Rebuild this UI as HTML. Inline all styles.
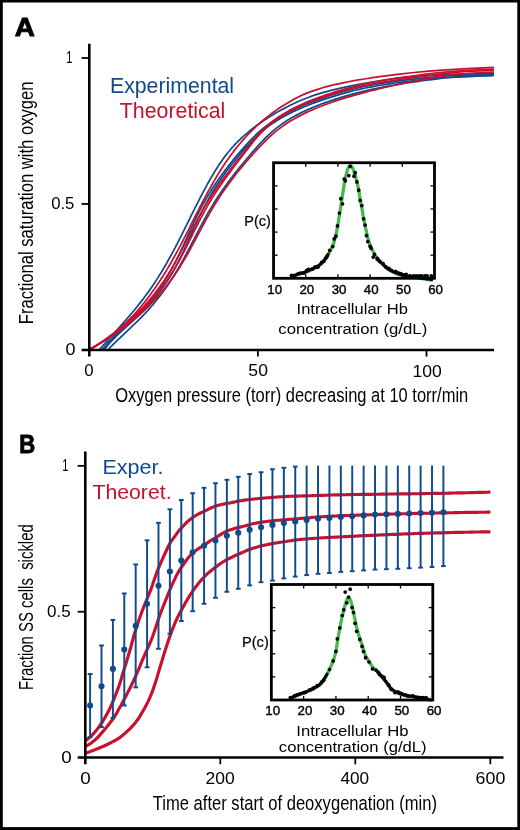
<!DOCTYPE html>
<html><head><meta charset="utf-8"><style>
html,body{margin:0;padding:0;background:#fff;}
svg{display:block;will-change:transform;}
text{font-family:"Liberation Sans", sans-serif;}
</style></head><body>
<svg width="520" height="830" viewBox="0 0 520 830">
<rect x="0" y="0" width="520" height="830" fill="#fff"/>
<path d="M99.4 349.9 L100.3 348.6 L101.4 347.4 L102.5 346.1 L103.6 344.8 L104.8 343.6 L105.9 342.3 L107.1 341.1 L108.2 339.8 L109.3 338.5 L110.5 337.3 L111.6 336.0 L112.8 334.7 L113.9 333.5 L115.0 332.2 L116.2 330.9 L117.3 329.7 L118.4 328.4 L119.6 327.2 L120.7 325.9 L121.8 324.6 L122.9 323.4 L124.0 322.1 L125.1 320.8 L126.2 319.6 L127.3 318.3 L128.4 317.0 L129.5 315.8 L130.6 314.5 L131.6 313.3 L132.7 312.0 L133.8 310.7 L134.8 309.5 L135.8 308.2 L136.9 306.9 L137.9 305.7 L138.9 304.4 L139.9 303.1 L140.9 301.9 L141.9 300.6 L142.9 299.4 L143.8 298.1 L144.8 296.8 L145.7 295.6 L146.6 294.3 L147.5 293.0 L148.5 291.8 L149.3 290.5 L150.2 289.2 L151.1 288.0 L152.0 286.7 L152.8 285.5 L153.7 284.2 L154.5 282.9 L155.4 281.7 L156.2 280.4 L157.0 279.1 L157.8 277.9 L158.6 276.6 L159.4 275.3 L160.2 274.1 L161.0 272.8 L161.7 271.6 L162.5 270.3 L163.2 269.0 L164.0 267.8 L164.7 266.5 L165.5 265.2 L166.2 264.0 L166.9 262.7 L167.6 261.5 L168.3 260.2 L169.0 258.9 L169.7 257.7 L170.4 256.4 L171.1 255.1 L171.8 253.9 L172.5 252.6 L173.2 251.3 L173.8 250.1 L174.5 248.8 L175.2 247.6 L175.8 246.3 L176.5 245.0 L177.2 243.8 L177.8 242.5 L178.4 241.2 L179.1 240.0 L179.7 238.7 L180.4 237.4 L181.0 236.2 L181.6 234.9 L182.3 233.7 L182.9 232.4 L183.5 231.1 L184.2 229.9 L184.8 228.6 L185.4 227.3 L186.0 226.1 L186.7 224.8 L187.3 223.5 L187.9 222.3 L188.5 221.0 L189.2 219.8 L189.8 218.5 L190.4 217.2 L191.0 216.0 L191.7 214.7 L192.3 213.4 L192.9 212.2 L193.5 210.9 L194.2 209.6 L194.8 208.4 L195.4 207.1 L196.1 205.9 L196.7 204.6 L197.3 203.3 L198.0 202.1 L198.6 200.8 L199.3 199.5 L199.9 198.3 L200.6 197.0 L201.2 195.7 L201.9 194.5 L202.6 193.2 L203.2 192.0 L203.9 190.7 L204.6 189.4 L205.3 188.2 L206.0 186.9 L206.6 185.6 L207.3 184.4 L208.0 183.1 L208.7 181.8 L209.5 180.6 L210.2 179.3 L210.9 178.1 L211.6 176.8 L212.4 175.5 L213.1 174.3 L213.9 173.0 L214.6 171.7 L215.4 170.5 L216.2 169.2 L217.0 167.9 L217.8 166.7 L218.6 165.4 L219.4 164.2 L220.3 162.9 L221.2 161.6 L222.1 160.4 L223.0 159.1 L223.9 157.8 L224.8 156.6 L225.8 155.3 L226.8 154.0 L227.8 152.8 L228.8 151.5 L229.9 150.3 L230.9 149.0 L232.1 147.7 L233.2 146.5 L234.3 145.2 L235.5 143.9 L236.8 142.7 L238.0 141.4 L239.3 140.1 L240.6 138.9 L241.9 137.6 L243.3 136.4 L244.7 135.1 L246.2 133.8 L247.7 132.6 L249.2 131.3 L250.8 130.0 L252.4 128.8 L254.0 127.5 L255.7 126.2 L257.4 125.0 L259.2 123.7 L261.0 122.5 L262.8 121.2 L264.7 119.9 L266.7 118.7 L268.6 117.4 L270.7 116.1 L272.8 114.9 L274.9 113.6 L277.1 112.3 L279.3 111.1 L281.6 109.8 L283.9 108.6 L286.3 107.3 L288.8 106.0 L291.3 104.8 L293.9 103.5 L296.6 102.2 L299.4 101.0 L302.4 99.7 L305.5 98.5 L308.9 97.2 L312.4 95.9 L316.2 94.7 L320.3 93.4 L324.6 92.1 L329.3 90.9 L334.2 89.6 L339.5 88.3 L345.2 87.1 L351.2 85.8 L357.7 84.6 L364.6 83.3 L371.9 82.0 L379.8 80.8 L388.1 79.5 L397.2 78.2 L409.0 77.0 L426.2 75.7 L451.4 74.4 L493.9 73.2" fill="none" stroke="#0f4b8b" stroke-width="1.75"/>
<path d="M102.1 349.9 L103.1 348.6 L104.0 347.4 L105.0 346.1 L106.1 344.9 L107.2 343.6 L108.3 342.4 L109.5 341.1 L110.7 339.8 L111.9 338.6 L113.1 337.3 L114.4 336.1 L115.7 334.8 L117.0 333.5 L118.3 332.3 L119.7 331.0 L121.0 329.8 L122.4 328.5 L123.8 327.3 L125.1 326.0 L126.5 324.7 L127.9 323.5 L129.3 322.2 L130.6 321.0 L132.0 319.7 L133.3 318.4 L134.6 317.2 L136.0 315.9 L137.3 314.7 L138.5 313.4 L139.8 312.2 L141.0 310.9 L142.2 309.6 L143.4 308.4 L144.6 307.1 L145.7 305.9 L146.9 304.6 L148.0 303.3 L149.0 302.1 L150.1 300.8 L151.2 299.6 L152.2 298.3 L153.2 297.1 L154.2 295.8 L155.2 294.5 L156.1 293.3 L157.1 292.0 L158.0 290.8 L158.9 289.5 L159.8 288.2 L160.6 287.0 L161.5 285.7 L162.4 284.5 L163.2 283.2 L164.0 282.0 L164.8 280.7 L165.6 279.4 L166.4 278.2 L167.1 276.9 L167.9 275.7 L168.6 274.4 L169.4 273.1 L170.1 271.9 L170.8 270.6 L171.5 269.4 L172.2 268.1 L172.9 266.9 L173.5 265.6 L174.2 264.3 L174.9 263.1 L175.5 261.8 L176.1 260.6 L176.8 259.3 L177.4 258.0 L178.0 256.8 L178.6 255.5 L179.2 254.3 L179.8 253.0 L180.4 251.8 L181.0 250.5 L181.6 249.2 L182.2 248.0 L182.8 246.7 L183.3 245.5 L183.9 244.2 L184.5 242.9 L185.1 241.7 L185.6 240.4 L186.2 239.2 L186.8 237.9 L187.3 236.7 L187.9 235.4 L188.5 234.1 L189.0 232.9 L189.6 231.6 L190.2 230.4 L190.7 229.1 L191.3 227.9 L191.9 226.6 L192.5 225.3 L193.1 224.1 L193.6 222.8 L194.2 221.6 L194.8 220.3 L195.4 219.0 L196.0 217.8 L196.7 216.5 L197.3 215.3 L197.9 214.0 L198.5 212.8 L199.2 211.5 L199.8 210.2 L200.5 209.0 L201.1 207.7 L201.8 206.5 L202.5 205.2 L203.1 203.9 L203.8 202.7 L204.6 201.4 L205.3 200.2 L206.0 198.9 L206.7 197.7 L207.5 196.4 L208.2 195.1 L209.0 193.9 L209.8 192.6 L210.6 191.4 L211.3 190.1 L212.1 188.8 L213.0 187.6 L213.8 186.3 L214.6 185.1 L215.5 183.8 L216.3 182.6 L217.2 181.3 L218.0 180.0 L218.9 178.8 L219.8 177.5 L220.7 176.3 L221.6 175.0 L222.5 173.7 L223.5 172.5 L224.4 171.2 L225.3 170.0 L226.3 168.7 L227.3 167.5 L228.2 166.2 L229.2 164.9 L230.2 163.7 L231.2 162.4 L232.2 161.2 L233.2 159.9 L234.3 158.6 L235.3 157.4 L236.4 156.1 L237.4 154.9 L238.5 153.6 L239.6 152.4 L240.7 151.1 L241.8 149.8 L242.9 148.6 L244.0 147.3 L245.1 146.1 L246.2 144.8 L247.4 143.5 L248.5 142.3 L249.7 141.0 L250.9 139.8 L252.1 138.5 L253.4 137.3 L254.7 136.0 L256.0 134.7 L257.3 133.5 L258.7 132.2 L260.1 131.0 L261.6 129.7 L263.1 128.5 L264.7 127.2 L266.3 125.9 L268.0 124.7 L269.8 123.4 L271.6 122.2 L273.4 120.9 L275.4 119.6 L277.4 118.4 L279.5 117.1 L281.7 115.9 L283.9 114.6 L286.2 113.4 L288.7 112.1 L291.2 110.8 L293.8 109.6 L296.5 108.3 L299.3 107.1 L302.2 105.8 L305.3 104.5 L308.4 103.3 L311.6 102.0 L315.0 100.8 L318.5 99.5 L322.1 98.3 L325.8 97.0 L329.6 95.7 L333.6 94.5 L337.7 93.2 L342.0 92.0 L346.5 90.7 L351.3 89.4 L356.4 88.2 L362.1 86.9 L368.3 85.7 L375.2 84.4 L382.8 83.2 L391.3 81.9 L400.6 80.6 L411.0 79.4 L422.5 78.1 L435.2 76.9 L450.8 75.6 L493.9 74.3" fill="none" stroke="#0f4b8b" stroke-width="1.75"/>
<path d="M104.1 349.9 L105.0 348.6 L106.0 347.4 L107.0 346.1 L108.0 344.9 L109.1 343.6 L110.2 342.4 L111.4 341.1 L112.6 339.9 L113.8 338.6 L115.1 337.4 L116.3 336.1 L117.6 334.9 L118.9 333.6 L120.3 332.4 L121.6 331.1 L123.0 329.9 L124.4 328.6 L125.7 327.3 L127.1 326.1 L128.5 324.8 L129.9 323.6 L131.3 322.3 L132.6 321.1 L134.0 319.8 L135.4 318.6 L136.7 317.3 L138.1 316.1 L139.4 314.8 L140.7 313.6 L141.9 312.3 L143.2 311.1 L144.4 309.8 L145.6 308.6 L146.8 307.3 L148.0 306.0 L149.1 304.8 L150.2 303.5 L151.3 302.3 L152.4 301.0 L153.5 299.8 L154.5 298.5 L155.5 297.3 L156.5 296.0 L157.5 294.8 L158.5 293.5 L159.4 292.3 L160.4 291.0 L161.3 289.8 L162.2 288.5 L163.1 287.3 L164.0 286.0 L164.8 284.7 L165.7 283.5 L166.5 282.2 L167.3 281.0 L168.1 279.7 L168.9 278.5 L169.7 277.2 L170.4 276.0 L171.2 274.7 L171.9 273.5 L172.7 272.2 L173.4 271.0 L174.1 269.7 L174.8 268.5 L175.5 267.2 L176.1 266.0 L176.8 264.7 L177.5 263.4 L178.1 262.2 L178.8 260.9 L179.4 259.7 L180.0 258.4 L180.7 257.2 L181.3 255.9 L181.9 254.7 L182.5 253.4 L183.1 252.2 L183.7 250.9 L184.3 249.7 L184.8 248.4 L185.4 247.2 L186.0 245.9 L186.6 244.7 L187.1 243.4 L187.7 242.2 L188.3 240.9 L188.8 239.6 L189.4 238.4 L190.0 237.1 L190.5 235.9 L191.1 234.6 L191.7 233.4 L192.2 232.1 L192.8 230.9 L193.3 229.6 L193.9 228.4 L194.5 227.1 L195.0 225.9 L195.6 224.6 L196.2 223.4 L196.8 222.1 L197.3 220.9 L197.9 219.6 L198.5 218.3 L199.1 217.1 L199.7 215.8 L200.3 214.6 L200.9 213.3 L201.6 212.1 L202.2 210.8 L202.8 209.6 L203.5 208.3 L204.1 207.1 L204.8 205.8 L205.4 204.6 L206.1 203.3 L206.8 202.1 L207.5 200.8 L208.2 199.6 L208.9 198.3 L209.6 197.0 L210.3 195.8 L211.1 194.5 L211.8 193.3 L212.6 192.0 L213.3 190.8 L214.1 189.5 L214.9 188.3 L215.7 187.0 L216.5 185.8 L217.3 184.5 L218.1 183.3 L219.0 182.0 L219.8 180.8 L220.7 179.5 L221.5 178.3 L222.4 177.0 L223.3 175.7 L224.2 174.5 L225.1 173.2 L226.0 172.0 L226.9 170.7 L227.8 169.5 L228.8 168.2 L229.7 167.0 L230.7 165.7 L231.7 164.5 L232.7 163.2 L233.7 162.0 L234.7 160.7 L235.7 159.5 L236.7 158.2 L237.8 157.0 L238.8 155.7 L239.9 154.4 L240.9 153.2 L242.0 151.9 L243.1 150.7 L244.2 149.4 L245.3 148.2 L246.5 146.9 L247.6 145.7 L248.8 144.4 L249.9 143.2 L251.1 141.9 L252.3 140.7 L253.5 139.4 L254.8 138.2 L256.1 136.9 L257.4 135.7 L258.7 134.4 L260.1 133.1 L261.5 131.9 L263.0 130.6 L264.6 129.4 L266.1 128.1 L267.8 126.9 L269.5 125.6 L271.2 124.4 L273.0 123.1 L274.9 121.9 L276.9 120.6 L278.9 119.4 L281.0 118.1 L283.2 116.9 L285.5 115.6 L287.9 114.4 L290.3 113.1 L292.9 111.8 L295.5 110.6 L298.3 109.3 L301.1 108.1 L304.1 106.8 L307.1 105.6 L310.3 104.3 L313.6 103.1 L317.0 101.8 L320.5 100.6 L324.2 99.3 L328.0 98.1 L331.9 96.8 L335.9 95.6 L340.1 94.3 L344.5 93.1 L349.1 91.8 L354.0 90.5 L359.4 89.3 L365.2 88.0 L371.6 86.8 L378.7 85.5 L386.5 84.3 L395.1 83.0 L404.6 81.8 L415.1 80.5 L426.6 79.3 L439.2 78.0 L455.6 76.8 L493.9 75.5" fill="none" stroke="#0f4b8b" stroke-width="1.75"/>
<path d="M108.2 349.9 L109.0 348.6 L110.2 347.4 L111.5 346.1 L112.7 344.9 L114.0 343.6 L115.3 342.4 L116.6 341.1 L117.8 339.9 L119.2 338.6 L120.5 337.4 L121.8 336.1 L123.1 334.9 L124.4 333.6 L125.7 332.4 L127.1 331.1 L128.4 329.9 L129.7 328.6 L131.0 327.3 L132.3 326.1 L133.6 324.8 L134.9 323.6 L136.2 322.3 L137.5 321.1 L138.8 319.8 L140.0 318.6 L141.3 317.3 L142.5 316.1 L143.7 314.8 L144.9 313.6 L146.1 312.3 L147.3 311.1 L148.4 309.8 L149.5 308.6 L150.6 307.3 L151.7 306.0 L152.8 304.8 L153.9 303.5 L154.9 302.3 L155.9 301.0 L156.9 299.8 L157.9 298.5 L158.9 297.3 L159.9 296.0 L160.9 294.8 L161.8 293.5 L162.7 292.3 L163.6 291.0 L164.5 289.8 L165.4 288.5 L166.3 287.3 L167.2 286.0 L168.0 284.7 L168.9 283.5 L169.7 282.2 L170.5 281.0 L171.3 279.7 L172.1 278.5 L172.9 277.2 L173.7 276.0 L174.5 274.7 L175.3 273.5 L176.0 272.2 L176.8 271.0 L177.5 269.7 L178.2 268.5 L179.0 267.2 L179.7 266.0 L180.4 264.7 L181.1 263.4 L181.8 262.2 L182.5 260.9 L183.2 259.7 L183.9 258.4 L184.6 257.2 L185.2 255.9 L185.9 254.7 L186.6 253.4 L187.2 252.2 L187.9 250.9 L188.6 249.7 L189.2 248.4 L189.9 247.2 L190.5 245.9 L191.2 244.7 L191.8 243.4 L192.5 242.2 L193.1 240.9 L193.8 239.6 L194.4 238.4 L195.1 237.1 L195.7 235.9 L196.4 234.6 L197.0 233.4 L197.7 232.1 L198.3 230.9 L199.0 229.6 L199.6 228.4 L200.3 227.1 L201.0 225.9 L201.6 224.6 L202.3 223.4 L203.0 222.1 L203.7 220.9 L204.3 219.6 L205.0 218.3 L205.7 217.1 L206.4 215.8 L207.1 214.6 L207.8 213.3 L208.6 212.1 L209.3 210.8 L210.0 209.6 L210.8 208.3 L211.5 207.1 L212.3 205.8 L213.0 204.6 L213.8 203.3 L214.6 202.1 L215.4 200.8 L216.2 199.6 L217.0 198.3 L217.8 197.0 L218.6 195.8 L219.5 194.5 L220.3 193.3 L221.2 192.0 L222.0 190.8 L222.9 189.5 L223.8 188.3 L224.7 187.0 L225.6 185.8 L226.5 184.5 L227.4 183.3 L228.3 182.0 L229.2 180.8 L230.2 179.5 L231.1 178.3 L232.1 177.0 L233.0 175.7 L234.0 174.5 L234.9 173.2 L235.9 172.0 L236.9 170.7 L237.9 169.5 L238.9 168.2 L239.9 167.0 L241.0 165.7 L242.0 164.5 L243.0 163.2 L244.1 162.0 L245.1 160.7 L246.2 159.5 L247.2 158.2 L248.3 157.0 L249.4 155.7 L250.5 154.4 L251.5 153.2 L252.6 151.9 L253.8 150.7 L254.9 149.4 L256.0 148.2 L257.1 146.9 L258.2 145.7 L259.4 144.4 L260.5 143.2 L261.7 141.9 L262.9 140.7 L264.1 139.4 L265.3 138.2 L266.6 136.9 L267.8 135.7 L269.2 134.4 L270.5 133.1 L271.9 131.9 L273.4 130.6 L274.9 129.4 L276.4 128.1 L278.0 126.9 L279.7 125.6 L281.4 124.4 L283.2 123.1 L285.1 121.9 L287.0 120.6 L289.0 119.4 L291.1 118.1 L293.3 116.9 L295.6 115.6 L298.0 114.4 L300.4 113.1 L303.0 111.8 L305.7 110.6 L308.4 109.3 L311.3 108.1 L314.3 106.8 L317.4 105.6 L320.7 104.3 L324.0 103.1 L327.5 101.8 L331.1 100.6 L334.9 99.3 L338.8 98.1 L342.8 96.8 L347.1 95.6 L351.5 94.3 L356.2 93.1 L361.1 91.8 L366.4 90.5 L372.0 89.3 L378.0 88.0 L384.4 86.8 L391.3 85.5 L398.7 84.3 L406.6 83.0 L415.0 81.8 L424.1 80.5 L433.8 79.3 L444.2 78.0 L460.1 76.8 L493.9 75.5" fill="none" stroke="#0f4b8b" stroke-width="1.75"/>
<path d="M89.3 349.9 L91.0 348.6 L93.2 347.3 L95.3 346.0 L97.3 344.7 L99.4 343.4 L101.3 342.2 L103.2 340.9 L105.1 339.6 L106.9 338.3 L108.7 337.0 L110.5 335.7 L112.2 334.4 L113.9 333.1 L115.5 331.8 L117.1 330.5 L118.6 329.3 L120.1 328.0 L121.6 326.7 L123.1 325.4 L124.5 324.1 L125.9 322.8 L127.2 321.5 L128.5 320.2 L129.8 318.9 L131.1 317.6 L132.3 316.4 L133.6 315.1 L134.7 313.8 L135.9 312.5 L137.1 311.2 L138.2 309.9 L139.3 308.6 L140.4 307.3 L141.5 306.0 L142.5 304.7 L143.5 303.5 L144.6 302.2 L145.6 300.9 L146.6 299.6 L147.6 298.3 L148.5 297.0 L149.5 295.7 L150.5 294.4 L151.4 293.1 L152.3 291.8 L153.3 290.5 L154.2 289.3 L155.1 288.0 L156.0 286.7 L156.8 285.4 L157.7 284.1 L158.6 282.8 L159.4 281.5 L160.3 280.2 L161.1 278.9 L161.9 277.6 L162.8 276.4 L163.6 275.1 L164.4 273.8 L165.2 272.5 L166.0 271.2 L166.7 269.9 L167.5 268.6 L168.3 267.3 L169.0 266.0 L169.8 264.7 L170.5 263.5 L171.3 262.2 L172.0 260.9 L172.7 259.6 L173.5 258.3 L174.2 257.0 L174.9 255.7 L175.6 254.4 L176.3 253.1 L177.0 251.8 L177.7 250.6 L178.4 249.3 L179.1 248.0 L179.8 246.7 L180.5 245.4 L181.1 244.1 L181.8 242.8 L182.5 241.5 L183.1 240.2 L183.8 238.9 L184.5 237.7 L185.1 236.4 L185.8 235.1 L186.4 233.8 L187.1 232.5 L187.8 231.2 L188.4 229.9 L189.1 228.6 L189.7 227.3 L190.4 226.0 L191.0 224.7 L191.6 223.5 L192.3 222.2 L192.9 220.9 L193.6 219.6 L194.2 218.3 L194.9 217.0 L195.5 215.7 L196.2 214.4 L196.8 213.1 L197.5 211.8 L198.2 210.6 L198.8 209.3 L199.5 208.0 L200.1 206.7 L200.8 205.4 L201.5 204.1 L202.1 202.8 L202.8 201.5 L203.5 200.2 L204.2 198.9 L204.9 197.7 L205.5 196.4 L206.2 195.1 L206.9 193.8 L207.6 192.5 L208.3 191.2 L209.0 189.9 L209.8 188.6 L210.5 187.3 L211.2 186.0 L211.9 184.8 L212.7 183.5 L213.4 182.2 L214.1 180.9 L214.9 179.6 L215.7 178.3 L216.4 177.0 L217.2 175.7 L218.0 174.4 L218.8 173.1 L219.6 171.8 L220.4 170.6 L221.2 169.3 L222.0 168.0 L222.8 166.7 L223.7 165.4 L224.5 164.1 L225.4 162.8 L226.3 161.5 L227.2 160.2 L228.1 158.9 L229.0 157.7 L229.9 156.4 L230.8 155.1 L231.8 153.8 L232.8 152.5 L233.7 151.2 L234.7 149.9 L235.7 148.6 L236.8 147.3 L237.8 146.0 L238.9 144.8 L240.0 143.5 L241.1 142.2 L242.2 140.9 L243.3 139.6 L244.5 138.3 L245.7 137.0 L246.9 135.7 L248.1 134.4 L249.3 133.1 L250.6 131.9 L251.9 130.6 L253.2 129.3 L254.5 128.0 L255.9 126.7 L257.3 125.4 L258.7 124.1 L260.1 122.8 L261.6 121.5 L263.1 120.2 L264.7 118.9 L266.3 117.7 L267.9 116.4 L269.6 115.1 L271.3 113.8 L273.0 112.5 L274.9 111.2 L276.7 109.9 L278.6 108.6 L280.6 107.3 L282.6 106.0 L284.6 104.8 L286.7 103.5 L288.9 102.2 L291.1 100.9 L293.4 99.6 L295.8 98.3 L298.3 97.0 L300.9 95.7 L303.8 94.4 L306.8 93.1 L310.1 91.9 L313.7 90.6 L317.6 89.3 L321.8 88.0 L326.5 86.7 L331.5 85.4 L337.1 84.1 L343.1 82.8 L349.6 81.5 L356.7 80.2 L364.4 79.0 L372.7 77.7 L381.7 76.4 L391.4 75.1 L402.0 73.8 L414.1 72.5 L428.6 71.2 L446.0 69.9 L467.3 68.6 L493.9 67.3" fill="none" stroke="#c8102e" stroke-width="1.75"/>
<path d="M89.3 349.9 L91.5 348.6 L93.6 347.3 L95.6 346.1 L97.6 344.8 L99.5 343.5 L101.4 342.2 L103.3 340.9 L105.1 339.6 L107.0 338.4 L108.8 337.1 L110.5 335.8 L112.2 334.5 L114.0 333.2 L115.6 331.9 L117.3 330.7 L118.9 329.4 L120.5 328.1 L122.1 326.8 L123.6 325.5 L125.1 324.3 L126.6 323.0 L128.1 321.7 L129.5 320.4 L130.9 319.1 L132.3 317.8 L133.7 316.6 L135.0 315.3 L136.4 314.0 L137.7 312.7 L138.9 311.4 L140.2 310.2 L141.4 308.9 L142.7 307.6 L143.9 306.3 L145.0 305.0 L146.2 303.7 L147.3 302.5 L148.4 301.2 L149.5 299.9 L150.6 298.6 L151.7 297.3 L152.7 296.0 L153.7 294.8 L154.8 293.5 L155.7 292.2 L156.7 290.9 L157.7 289.6 L158.6 288.4 L159.6 287.1 L160.5 285.8 L161.4 284.5 L162.3 283.2 L163.2 281.9 L164.0 280.7 L164.9 279.4 L165.7 278.1 L166.5 276.8 L167.3 275.5 L168.2 274.2 L168.9 273.0 L169.7 271.7 L170.5 270.4 L171.3 269.1 L172.0 267.8 L172.8 266.6 L173.5 265.3 L174.2 264.0 L175.0 262.7 L175.7 261.4 L176.4 260.1 L177.1 258.9 L177.8 257.6 L178.5 256.3 L179.2 255.0 L179.8 253.7 L180.5 252.5 L181.2 251.2 L181.8 249.9 L182.5 248.6 L183.2 247.3 L183.8 246.0 L184.5 244.8 L185.1 243.5 L185.8 242.2 L186.4 240.9 L187.1 239.6 L187.7 238.3 L188.4 237.1 L189.0 235.8 L189.7 234.5 L190.3 233.2 L191.0 231.9 L191.7 230.7 L192.3 229.4 L193.0 228.1 L193.6 226.8 L194.3 225.5 L195.0 224.2 L195.6 223.0 L196.3 221.7 L197.0 220.4 L197.7 219.1 L198.4 217.8 L199.1 216.5 L199.8 215.3 L200.5 214.0 L201.2 212.7 L202.0 211.4 L202.7 210.1 L203.4 208.9 L204.2 207.6 L205.0 206.3 L205.7 205.0 L206.5 203.7 L207.3 202.4 L208.1 201.2 L208.9 199.9 L209.7 198.6 L210.6 197.3 L211.4 196.0 L212.2 194.8 L213.1 193.5 L214.0 192.2 L214.8 190.9 L215.7 189.6 L216.6 188.3 L217.5 187.1 L218.4 185.8 L219.3 184.5 L220.2 183.2 L221.2 181.9 L222.1 180.6 L223.0 179.4 L224.0 178.1 L224.9 176.8 L225.9 175.5 L226.8 174.2 L227.8 173.0 L228.8 171.7 L229.7 170.4 L230.7 169.1 L231.7 167.8 L232.7 166.5 L233.7 165.3 L234.7 164.0 L235.7 162.7 L236.7 161.4 L237.7 160.1 L238.7 158.8 L239.7 157.6 L240.7 156.3 L241.7 155.0 L242.7 153.7 L243.7 152.4 L244.8 151.2 L245.8 149.9 L246.8 148.6 L247.8 147.3 L248.8 146.0 L249.9 144.7 L250.9 143.5 L251.9 142.2 L253.0 140.9 L254.0 139.6 L255.1 138.3 L256.2 137.1 L257.3 135.8 L258.4 134.5 L259.6 133.2 L260.8 131.9 L262.1 130.6 L263.4 129.4 L264.7 128.1 L266.1 126.8 L267.5 125.5 L269.0 124.2 L270.5 122.9 L272.1 121.7 L273.8 120.4 L275.6 119.1 L277.4 117.8 L279.3 116.5 L281.3 115.3 L283.3 114.0 L285.5 112.7 L287.7 111.4 L290.0 110.1 L292.5 108.8 L295.0 107.6 L297.6 106.3 L300.4 105.0 L303.2 103.7 L306.2 102.4 L309.3 101.1 L312.5 99.9 L315.8 98.6 L319.3 97.3 L322.9 96.0 L326.6 94.7 L330.5 93.5 L334.5 92.2 L338.7 90.9 L343.0 89.6 L347.5 88.3 L352.3 87.0 L357.4 85.8 L362.8 84.5 L368.6 83.2 L374.9 81.9 L381.8 80.6 L389.2 79.4 L397.3 78.1 L406.1 76.8 L415.7 75.5 L426.0 74.2 L437.3 72.9 L449.8 71.7 L467.0 70.4 L493.9 69.1" fill="none" stroke="#c8102e" stroke-width="1.75"/>
<path d="M89.3 349.9 L91.3 348.6 L93.5 347.3 L95.6 346.1 L97.7 344.8 L99.7 343.5 L101.7 342.2 L103.7 341.0 L105.6 339.7 L107.5 338.4 L109.4 337.1 L111.3 335.9 L113.1 334.6 L114.9 333.3 L116.6 332.0 L118.3 330.7 L120.0 329.5 L121.7 328.2 L123.3 326.9 L125.0 325.6 L126.5 324.4 L128.1 323.1 L129.6 321.8 L131.1 320.5 L132.6 319.3 L134.1 318.0 L135.5 316.7 L136.9 315.4 L138.3 314.1 L139.6 312.9 L141.0 311.6 L142.3 310.3 L143.5 309.0 L144.8 307.8 L146.0 306.5 L147.3 305.2 L148.5 303.9 L149.6 302.7 L150.8 301.4 L151.9 300.1 L153.0 298.8 L154.1 297.5 L155.2 296.3 L156.3 295.0 L157.3 293.7 L158.3 292.4 L159.3 291.2 L160.3 289.9 L161.3 288.6 L162.3 287.3 L163.2 286.1 L164.1 284.8 L165.0 283.5 L165.9 282.2 L166.8 280.9 L167.7 279.7 L168.5 278.4 L169.4 277.1 L170.2 275.8 L171.0 274.6 L171.8 273.3 L172.6 272.0 L173.4 270.7 L174.2 269.5 L174.9 268.2 L175.7 266.9 L176.4 265.6 L177.1 264.3 L177.9 263.1 L178.6 261.8 L179.3 260.5 L180.0 259.2 L180.7 258.0 L181.4 256.7 L182.0 255.4 L182.7 254.1 L183.4 252.9 L184.0 251.6 L184.7 250.3 L185.4 249.0 L186.0 247.7 L186.6 246.5 L187.3 245.2 L187.9 243.9 L188.6 242.6 L189.2 241.4 L189.8 240.1 L190.5 238.8 L191.1 237.5 L191.7 236.3 L192.3 235.0 L193.0 233.7 L193.6 232.4 L194.2 231.1 L194.9 229.9 L195.5 228.6 L196.1 227.3 L196.8 226.0 L197.4 224.8 L198.1 223.5 L198.7 222.2 L199.4 220.9 L200.0 219.7 L200.7 218.4 L201.4 217.1 L202.0 215.8 L202.7 214.5 L203.4 213.3 L204.1 212.0 L204.8 210.7 L205.5 209.4 L206.2 208.2 L207.0 206.9 L207.7 205.6 L208.4 204.3 L209.2 203.1 L209.9 201.8 L210.7 200.5 L211.5 199.2 L212.3 197.9 L213.1 196.7 L213.9 195.4 L214.7 194.1 L215.5 192.8 L216.4 191.6 L217.2 190.3 L218.1 189.0 L218.9 187.7 L219.8 186.5 L220.7 185.2 L221.5 183.9 L222.4 182.6 L223.3 181.3 L224.2 180.1 L225.1 178.8 L226.0 177.5 L227.0 176.2 L227.9 175.0 L228.8 173.7 L229.7 172.4 L230.7 171.1 L231.6 169.9 L232.6 168.6 L233.5 167.3 L234.5 166.0 L235.4 164.8 L236.4 163.5 L237.4 162.2 L238.4 160.9 L239.3 159.6 L240.3 158.4 L241.3 157.1 L242.3 155.8 L243.3 154.5 L244.3 153.3 L245.3 152.0 L246.3 150.7 L247.3 149.4 L248.3 148.2 L249.3 146.9 L250.3 145.6 L251.3 144.3 L252.3 143.0 L253.3 141.8 L254.3 140.5 L255.4 139.2 L256.5 137.9 L257.6 136.7 L258.7 135.4 L259.8 134.1 L261.0 132.8 L262.2 131.6 L263.5 130.3 L264.8 129.0 L266.2 127.7 L267.6 126.4 L269.1 125.2 L270.6 123.9 L272.2 122.6 L273.8 121.3 L275.6 120.1 L277.4 118.8 L279.3 117.5 L281.3 116.2 L283.3 115.0 L285.5 113.7 L287.7 112.4 L290.1 111.1 L292.5 109.8 L295.0 108.6 L297.7 107.3 L300.5 106.0 L303.4 104.7 L306.4 103.5 L309.5 102.2 L312.8 100.9 L316.2 99.6 L319.7 98.4 L323.4 97.1 L327.2 95.8 L331.1 94.5 L335.2 93.2 L339.5 92.0 L343.9 90.7 L348.5 89.4 L353.4 88.1 L358.7 86.9 L364.4 85.6 L370.6 84.3 L377.4 83.0 L384.9 81.8 L393.0 80.5 L401.9 79.2 L411.2 77.9 L420.8 76.6 L430.5 75.4 L440.1 74.1 L450.4 72.8 L466.2 71.5 L493.9 70.3" fill="none" stroke="#c8102e" stroke-width="1.75"/>
<path d="M89.3 349.9 L91.5 348.6 L93.7 347.4 L95.9 346.1 L98.0 344.8 L100.1 343.6 L102.2 342.3 L104.2 341.0 L106.2 339.7 L108.2 338.5 L110.1 337.2 L112.0 335.9 L113.9 334.7 L115.7 333.4 L117.5 332.1 L119.3 330.9 L121.1 329.6 L122.8 328.3 L124.5 327.1 L126.1 325.8 L127.8 324.5 L129.4 323.3 L131.0 322.0 L132.6 320.7 L134.1 319.4 L135.6 318.2 L137.1 316.9 L138.6 315.6 L140.0 314.4 L141.4 313.1 L142.8 311.8 L144.2 310.6 L145.5 309.3 L146.8 308.0 L148.1 306.8 L149.4 305.5 L150.7 304.2 L151.9 303.0 L153.1 301.7 L154.3 300.4 L155.5 299.1 L156.6 297.9 L157.8 296.6 L158.9 295.3 L160.0 294.1 L161.1 292.8 L162.1 291.5 L163.2 290.3 L164.2 289.0 L165.2 287.7 L166.2 286.5 L167.2 285.2 L168.2 283.9 L169.1 282.6 L170.1 281.4 L171.0 280.1 L171.9 278.8 L172.8 277.6 L173.7 276.3 L174.6 275.0 L175.4 273.8 L176.3 272.5 L177.1 271.2 L177.9 270.0 L178.8 268.7 L179.6 267.4 L180.4 266.2 L181.1 264.9 L181.9 263.6 L182.7 262.3 L183.4 261.1 L184.2 259.8 L184.9 258.5 L185.7 257.3 L186.4 256.0 L187.1 254.7 L187.9 253.5 L188.6 252.2 L189.3 250.9 L190.0 249.7 L190.7 248.4 L191.4 247.1 L192.0 245.9 L192.7 244.6 L193.4 243.3 L194.1 242.0 L194.8 240.8 L195.4 239.5 L196.1 238.2 L196.8 237.0 L197.5 235.7 L198.1 234.4 L198.8 233.2 L199.5 231.9 L200.2 230.6 L200.8 229.4 L201.5 228.1 L202.2 226.8 L202.9 225.5 L203.5 224.3 L204.2 223.0 L204.9 221.7 L205.6 220.5 L206.3 219.2 L207.0 217.9 L207.7 216.7 L208.4 215.4 L209.1 214.1 L209.9 212.9 L210.6 211.6 L211.3 210.3 L212.1 209.1 L212.8 207.8 L213.6 206.5 L214.4 205.2 L215.1 204.0 L215.9 202.7 L216.7 201.4 L217.5 200.2 L218.3 198.9 L219.2 197.6 L220.0 196.4 L220.8 195.1 L221.7 193.8 L222.5 192.6 L223.4 191.3 L224.3 190.0 L225.2 188.7 L226.1 187.5 L227.0 186.2 L227.9 184.9 L228.8 183.7 L229.7 182.4 L230.7 181.1 L231.6 179.9 L232.6 178.6 L233.6 177.3 L234.5 176.1 L235.5 174.8 L236.5 173.5 L237.5 172.3 L238.6 171.0 L239.6 169.7 L240.6 168.4 L241.7 167.2 L242.7 165.9 L243.8 164.6 L244.8 163.4 L245.9 162.1 L247.0 160.8 L248.1 159.6 L249.2 158.3 L250.4 157.0 L251.5 155.8 L252.6 154.5 L253.8 153.2 L254.9 152.0 L256.1 150.7 L257.3 149.4 L258.5 148.1 L259.7 146.9 L260.9 145.6 L262.1 144.3 L263.3 143.1 L264.5 141.8 L265.8 140.5 L267.1 139.3 L268.4 138.0 L269.8 136.7 L271.1 135.5 L272.6 134.2 L274.0 132.9 L275.5 131.6 L277.1 130.4 L278.7 129.1 L280.4 127.8 L282.1 126.6 L283.9 125.3 L285.8 124.0 L287.7 122.8 L289.7 121.5 L291.8 120.2 L294.0 119.0 L296.2 117.7 L298.6 116.4 L301.0 115.2 L303.5 113.9 L306.2 112.6 L308.9 111.3 L311.8 110.1 L314.7 108.8 L317.8 107.5 L321.0 106.3 L324.3 105.0 L327.7 103.7 L331.3 102.5 L335.0 101.2 L338.9 99.9 L342.8 98.7 L347.0 97.4 L351.3 96.1 L355.7 94.9 L360.3 93.6 L365.0 92.3 L370.0 91.0 L375.1 89.8 L380.3 88.5 L385.8 87.2 L391.5 86.0 L397.3 84.7 L403.3 83.4 L409.6 82.2 L416.0 80.9 L422.7 79.6 L429.6 78.4 L436.7 77.1 L444.0 75.8 L453.5 74.5 L468.7 73.3 L493.9 72.0" fill="none" stroke="#c8102e" stroke-width="1.75"/>
<line x1="89.3" y1="43.7" x2="89.3" y2="356.6" stroke="#000" stroke-width="2.6"/>
<line x1="81.6" y1="349.9" x2="494" y2="349.9" stroke="#000" stroke-width="2.5"/>
<line x1="81.6" y1="203.95" x2="89.3" y2="203.95" stroke="#000" stroke-width="1.8"/>
<line x1="81.6" y1="58.00" x2="89.3" y2="58.00" stroke="#000" stroke-width="1.8"/>
<line x1="257.90" y1="349.9" x2="257.90" y2="356.6" stroke="#000" stroke-width="1.8"/>
<line x1="426.50" y1="349.9" x2="426.50" y2="356.6" stroke="#000" stroke-width="1.8"/>
<text x="66.25" y="62.80" font-size="17" font-weight="normal" fill="#000" textLength="6.19" lengthAdjust="spacingAndGlyphs" >1</text>
<text x="51.15" y="208.60" font-size="17" font-weight="normal" fill="#000" textLength="23.26" lengthAdjust="spacingAndGlyphs" >0.5</text>
<text x="65.50" y="354.60" font-size="17" font-weight="normal" fill="#000" textLength="10.01" lengthAdjust="spacingAndGlyphs" >0</text>
<text x="84.25" y="376.40" font-size="17" font-weight="normal" fill="#000" textLength="9.31" lengthAdjust="spacingAndGlyphs" >0</text>
<text x="248.39" y="376.40" font-size="17" font-weight="normal" fill="#000" textLength="19.59" lengthAdjust="spacingAndGlyphs" >50</text>
<text x="412.46" y="376.50" font-size="17" font-weight="normal" fill="#000" textLength="29.33" lengthAdjust="spacingAndGlyphs" >100</text>
<text x="115.22" y="402.30" font-size="20.5" font-weight="normal" fill="#000" textLength="353.05" lengthAdjust="spacingAndGlyphs" >Oxygen pressure (torr) decreasing at 10 torr/min</text>
<text transform="translate(32.80,324.16) rotate(-90)" x="0" y="0" font-size="21" font-weight="normal" fill="#000" textLength="242.64" lengthAdjust="spacingAndGlyphs" >Fractional saturation with oxygen</text>
<text x="109.95" y="92.70" font-size="21.2" font-weight="normal" fill="#0f4b8b" textLength="124.17" lengthAdjust="spacingAndGlyphs" >Experimental</text>
<text x="119.82" y="117.90" font-size="21.2" font-weight="normal" fill="#c8102e" textLength="105.51" lengthAdjust="spacingAndGlyphs" >Theoretical</text>
<text x="14.76" y="36.45" font-size="25.1" font-weight="bold" fill="#000" textLength="20.13" lengthAdjust="spacingAndGlyphs" stroke="#000" stroke-width="0.9">A</text>
<rect x="271.55" y="162.75" width="162.95" height="115.55000000000001" fill="#fff"/>
<path d="M290.0 277.2 L290.4 277.1 L290.7 276.9 L291.1 276.8 L291.4 276.7 L291.8 276.6 L292.2 276.4 L292.5 276.3 L292.9 276.2 L293.2 276.1 L293.6 276.0 L293.9 275.9 L294.3 275.8 L294.7 275.6 L295.0 275.5 L295.4 275.4 L295.7 275.3 L296.1 275.2 L296.5 275.1 L296.8 275.0 L297.2 274.9 L297.5 274.7 L297.9 274.6 L298.2 274.5 L298.6 274.4 L299.0 274.3 L299.3 274.2 L299.7 274.1 L300.0 274.0 L300.4 273.9 L300.8 273.8 L301.1 273.7 L301.5 273.6 L301.8 273.5 L302.2 273.4 L302.5 273.3 L302.9 273.2 L303.3 273.1 L303.6 273.0 L304.0 272.9 L304.3 272.8 L304.7 272.7 L305.1 272.6 L305.4 272.4 L305.8 272.3 L306.1 272.2 L306.5 272.0 L306.8 271.9 L307.2 271.7 L307.6 271.6 L307.9 271.4 L308.3 271.2 L308.6 271.1 L309.0 270.9 L309.4 270.7 L309.7 270.5 L310.1 270.4 L310.4 270.2 L310.8 270.0 L311.1 269.9 L311.5 269.7 L311.9 269.5 L312.2 269.4 L312.6 269.2 L312.9 269.0 L313.3 268.9 L313.7 268.7 L314.0 268.5 L314.4 268.3 L314.7 268.2 L315.1 268.0 L315.4 267.8 L315.8 267.6 L316.2 267.4 L316.5 267.2 L316.9 267.0 L317.2 266.8 L317.6 266.6 L318.0 266.4 L318.3 266.2 L318.7 266.0 L319.0 265.7 L319.4 265.5 L319.7 265.2 L320.1 264.9 L320.5 264.6 L320.8 264.3 L321.2 264.0 L321.5 263.7 L321.9 263.3 L322.3 263.0 L322.6 262.6 L323.0 262.2 L323.3 261.8 L323.7 261.3 L324.0 260.9 L324.4 260.4 L324.8 259.9 L325.1 259.4 L325.5 258.9 L325.8 258.3 L326.2 257.8 L326.6 257.2 L326.9 256.6 L327.3 256.1 L327.6 255.4 L328.0 254.8 L328.3 254.2 L328.7 253.5 L329.1 252.9 L329.4 252.2 L329.8 251.5 L330.1 250.8 L330.5 250.1 L330.9 249.4 L331.2 248.7 L331.6 247.9 L331.9 247.2 L332.3 246.4 L332.6 245.6 L333.0 244.8 L333.4 243.9 L333.7 242.9 L334.1 241.8 L334.4 240.7 L334.8 239.5 L335.2 238.2 L335.5 236.8 L335.9 235.3 L336.2 233.7 L336.6 231.9 L336.9 230.0 L337.3 228.1 L337.7 226.1 L338.0 223.9 L338.4 221.7 L338.7 219.4 L339.1 217.1 L339.5 214.8 L339.8 212.5 L340.2 210.2 L340.5 207.9 L340.9 205.6 L341.3 203.3 L341.6 201.0 L342.0 198.7 L342.3 196.4 L342.7 194.0 L343.0 191.7 L343.4 189.4 L343.8 187.0 L344.1 184.7 L344.5 182.6 L344.8 180.7 L345.2 178.9 L345.6 177.2 L345.9 175.7 L346.3 174.2 L346.6 172.9 L347.0 171.5 L347.3 170.3 L347.7 169.2 L348.1 168.3 L348.4 167.6 L348.8 167.0 L349.1 166.5 L349.5 166.1 L349.9 165.8 L350.2 165.6 L350.6 165.7 L350.9 165.9 L351.3 166.2 L351.6 166.6 L352.0 167.1 L352.4 167.6 L352.7 168.2 L353.1 169.0 L353.4 170.0 L353.8 171.0 L354.2 172.2 L354.5 173.3 L354.9 174.4 L355.2 175.6 L355.6 176.8 L355.9 178.1 L356.3 179.5 L356.7 180.9 L357.0 182.4 L357.4 183.9 L357.7 185.5 L358.1 187.2 L358.5 188.9 L358.8 190.8 L359.2 193.0 L359.5 195.3 L359.9 197.6 L360.2 199.8 L360.6 201.6 L361.0 203.3 L361.3 205.0 L361.7 206.8 L362.0 208.9 L362.4 211.1 L362.8 213.5 L363.1 215.8 L363.5 217.8 L363.8 219.7 L364.2 221.4 L364.5 223.0 L364.9 224.6 L365.3 226.3 L365.6 228.0 L366.0 229.8 L366.3 231.5 L366.7 233.2 L367.1 234.8 L367.4 236.3 L367.8 237.7 L368.1 239.1 L368.5 240.4 L368.8 241.6 L369.2 242.7 L369.6 243.7 L369.9 244.6 L370.3 245.4 L370.6 246.2 L371.0 246.9 L371.4 247.7 L371.7 248.4 L372.1 249.1 L372.4 249.9 L372.8 250.7 L373.1 251.5 L373.5 252.2 L373.9 253.0 L374.2 253.7 L374.6 254.3 L374.9 255.0 L375.3 255.6 L375.7 256.2 L376.0 256.8 L376.4 257.4 L376.7 258.0 L377.1 258.5 L377.4 259.0 L377.8 259.6 L378.2 260.0 L378.5 260.5 L378.9 260.9 L379.2 261.3 L379.6 261.6 L380.0 262.0 L380.3 262.3 L380.7 262.6 L381.0 262.9 L381.4 263.2 L381.7 263.5 L382.1 263.8 L382.5 264.2 L382.8 264.5 L383.2 264.9 L383.5 265.3 L383.9 265.6 L384.3 266.0 L384.6 266.4 L385.0 266.8 L385.3 267.2 L385.7 267.5 L386.1 267.8 L386.4 268.1 L386.8 268.4 L387.1 268.7 L387.5 268.9 L387.8 269.1 L388.2 269.4 L388.6 269.6 L388.9 269.8 L389.3 270.0 L389.6 270.2 L390.0 270.4 L390.4 270.6 L390.7 270.8 L391.1 271.0 L391.4 271.2 L391.8 271.4 L392.1 271.6 L392.5 271.8 L392.9 271.9 L393.2 272.1 L393.6 272.3 L393.9 272.5 L394.3 272.7 L394.7 272.8 L395.0 273.0 L395.4 273.2 L395.7 273.3 L396.1 273.5 L396.4 273.6 L396.8 273.8 L397.2 273.9 L397.5 274.0 L397.9 274.2 L398.2 274.3 L398.6 274.4 L399.0 274.5 L399.3 274.6 L399.7 274.7 L400.0 274.8 L400.4 274.9 L400.7 275.0 L401.1 275.0 L401.5 275.1 L401.8 275.2 L402.2 275.3 L402.5 275.4 L402.9 275.5 L403.3 275.5 L403.6 275.6 L404.0 275.7 L404.3 275.8 L404.7 275.8 L405.0 275.9 L405.4 276.0 L405.8 276.0 L406.1 276.1 L406.5 276.2 L406.8 276.2 L407.2 276.3 L407.6 276.4 L407.9 276.4 L408.3 276.5 L408.6 276.6 L409.0 276.6 L409.3 276.7 L409.7 276.7 L410.1 276.8 L410.4 276.9 L410.8 276.9 L411.1 277.0 L411.5 277.1 L411.9 277.1 L412.2 277.2 L412.6 277.2 L412.9 277.3 L413.3 277.3 L413.6 277.4 L414.0 277.4 L414.4 277.5 L414.7 277.5 L415.1 277.6 L415.4 277.6 L415.8 277.7 L416.2 277.7 L416.5 277.8 L416.9 277.8 L417.2 277.9 L417.6 277.9 L417.9 278.0 L418.3 278.1 L418.7 278.1 L419.0 278.2 L419.4 278.2 L419.7 278.3 L420.1 278.3 L420.5 278.4 L420.8 278.4 L421.2 278.5 L421.5 278.5 L421.9 278.6 L422.2 278.6 L422.6 278.7 L423.0 278.8 L423.3 278.8 L423.7 278.9 L424.0 278.9 L424.4 279.0 L424.8 279.0 L425.1 279.1 L425.5 279.1 L425.8 279.2 L426.2 279.2 L426.5 279.3 L426.9 279.4 L427.3 279.4 L427.6 279.5 L428.0 279.5 L428.3 279.6 L428.7 279.6 L429.1 279.7 L429.4 279.7 L429.8 279.8 L430.1 279.9 L430.5 279.9 L430.8 280.0 L431.2 280.0 L431.6 280.1 L431.9 280.1 L432.3 280.2 L432.6 280.2 L433.0 280.3" fill="none" stroke="#45b94c" stroke-width="3.3"/>
<path d="M291.5 276.2 L292.1 276.0 L292.7 275.8 L293.4 275.6 L294.0 275.4 L294.6 275.2 L295.2 275.0 L295.8 274.8 L296.4 274.6 L297.1 274.4 L297.7 274.2 L298.3 274.0 L298.9 273.8 L299.5 273.6 L300.2 273.5 L300.8 273.3 L301.4 273.1 L302.0 272.9 L302.6 272.8 L303.3 272.6 L303.9 272.4 L304.5 272.2 L305.1 272.0 L305.7 271.8 L306.3 271.6 L307.0 271.3 L307.6 271.1 L308.2 270.8 L308.8 270.5 L309.4 270.2 L310.1 269.9 L310.7 269.6 L311.3 269.3 L311.9 269.0 L312.5 268.7 L313.2 268.4 L313.8 268.1 L314.4 267.8 L315.0 267.5 L315.6 267.2 L316.2 266.9 L316.9 266.5 L317.5 266.2 L318.1 265.8 L318.7 265.4 L319.3 265.0 L320.0 264.5 L320.6 264.0 L321.2 263.5 L321.8 262.9 L322.4 262.3 L323.1 261.6 L323.7 260.9 L324.3 260.1 L324.9 259.2 L325.5 258.3 L326.1 257.4 L326.8 256.4 L327.4 255.4 L328.0 254.3" fill="none" stroke="#000" stroke-width="3.0" stroke-linecap="round"/>
<circle cx="291.6" cy="275.3" r="1.9" fill="#000"/>
<circle cx="294.5" cy="275.8" r="1.9" fill="#000"/>
<circle cx="298.3" cy="273.6" r="1.9" fill="#000"/>
<circle cx="300.4" cy="273.2" r="1.9" fill="#000"/>
<circle cx="303.8" cy="273.0" r="1.9" fill="#000"/>
<circle cx="306.7" cy="270.5" r="1.9" fill="#000"/>
<circle cx="308.5" cy="269.4" r="1.9" fill="#000"/>
<circle cx="312.3" cy="269.0" r="1.9" fill="#000"/>
<circle cx="315.1" cy="267.0" r="1.9" fill="#000"/>
<circle cx="317.8" cy="267.2" r="1.9" fill="#000"/>
<circle cx="321.6" cy="262.5" r="1.9" fill="#000"/>
<circle cx="323.9" cy="261.1" r="1.9" fill="#000"/>
<circle cx="327.3" cy="255.9" r="1.9" fill="#000"/>
<path d="M377.0 257.9 L377.9 259.2 L378.8 260.4 L379.8 261.3 L380.7 262.1 L381.6 262.9 L382.5 263.7 L383.5 264.7 L384.4 265.7 L385.3 266.6 L386.2 267.5 L387.2 268.2 L388.1 268.8 L389.0 269.4 L389.9 269.9 L390.9 270.4 L391.8 270.9 L392.7 271.4 L393.6 271.8 L394.6 272.3 L395.5 272.7 L396.4 273.1 L397.3 273.5 L398.2 273.8 L399.2 274.0 L400.1 274.3 L401.0 274.5 L401.9 274.7 L402.9 275.0 L403.8 275.1 L404.7 275.3 L405.6 275.5 L406.6 275.7 L407.5 275.9 L408.4 276.0 L409.3 276.2 L410.3 276.3 L411.2 276.5 L412.1 276.6 L413.0 276.8 L413.9 276.9 L414.9 277.1 L415.8 277.2 L416.7 277.3 L417.6 277.5 L418.6 277.6 L419.5 277.7 L420.4 277.9 L421.3 278.0 L422.3 278.1 L423.2 278.3 L424.1 278.4 L425.0 278.6 L426.0 278.7 L426.9 278.9 L427.8 279.0 L428.7 279.1 L429.7 279.3 L430.6 279.4 L431.5 279.6" fill="none" stroke="#000" stroke-width="3.0" stroke-linecap="round"/>
<circle cx="377.7" cy="259.0" r="1.9" fill="#000"/>
<circle cx="379.8" cy="261.4" r="1.9" fill="#000"/>
<circle cx="383.1" cy="263.7" r="1.9" fill="#000"/>
<circle cx="385.7" cy="266.6" r="1.9" fill="#000"/>
<circle cx="388.9" cy="268.3" r="1.9" fill="#000"/>
<circle cx="391.5" cy="270.4" r="1.9" fill="#000"/>
<circle cx="395.7" cy="271.5" r="1.9" fill="#000"/>
<circle cx="398.2" cy="273.0" r="1.9" fill="#000"/>
<circle cx="400.9" cy="273.7" r="1.9" fill="#000"/>
<circle cx="403.4" cy="275.0" r="1.9" fill="#000"/>
<circle cx="406.2" cy="274.5" r="1.9" fill="#000"/>
<circle cx="410.0" cy="275.9" r="1.9" fill="#000"/>
<circle cx="413.5" cy="275.9" r="1.9" fill="#000"/>
<circle cx="416.4" cy="275.9" r="1.9" fill="#000"/>
<circle cx="419.3" cy="275.9" r="1.9" fill="#000"/>
<circle cx="421.7" cy="275.9" r="1.9" fill="#000"/>
<circle cx="424.9" cy="275.9" r="1.9" fill="#000"/>
<circle cx="427.1" cy="275.9" r="1.9" fill="#000"/>
<circle cx="431.3" cy="275.9" r="1.9" fill="#000"/>
<circle cx="350.2" cy="166.3" r="1.85" fill="#000"/>
<circle cx="348.8" cy="175.6" r="1.85" fill="#000"/>
<circle cx="344.2" cy="179.0" r="1.85" fill="#000"/>
<circle cx="345.4" cy="180.8" r="1.85" fill="#000"/>
<circle cx="355.2" cy="172.7" r="1.85" fill="#000"/>
<circle cx="354.0" cy="176.2" r="1.85" fill="#000"/>
<circle cx="356.9" cy="181.9" r="1.85" fill="#000"/>
<circle cx="358.7" cy="190.2" r="1.85" fill="#000"/>
<circle cx="340.8" cy="198.7" r="1.85" fill="#000"/>
<circle cx="342.5" cy="203.8" r="1.85" fill="#000"/>
<circle cx="360.2" cy="200.4" r="1.85" fill="#000"/>
<circle cx="361.8" cy="205.6" r="1.85" fill="#000"/>
<circle cx="339.4" cy="213.1" r="1.85" fill="#000"/>
<circle cx="363.6" cy="218.8" r="1.85" fill="#000"/>
<circle cx="337.5" cy="225.9" r="1.85" fill="#000"/>
<circle cx="335.9" cy="236.2" r="1.85" fill="#000"/>
<circle cx="334.1" cy="238.9" r="1.85" fill="#000"/>
<circle cx="332.8" cy="246.6" r="1.85" fill="#000"/>
<circle cx="329.7" cy="250.4" r="1.85" fill="#000"/>
<circle cx="326.1" cy="257.8" r="1.85" fill="#000"/>
<circle cx="365.1" cy="225.1" r="1.85" fill="#000"/>
<circle cx="366.4" cy="235.6" r="1.85" fill="#000"/>
<circle cx="367.8" cy="241.6" r="1.85" fill="#000"/>
<circle cx="370.1" cy="246.3" r="1.85" fill="#000"/>
<circle cx="371.1" cy="248.4" r="1.85" fill="#000"/>
<circle cx="374.5" cy="254.4" r="1.85" fill="#000"/>
<circle cx="373.2" cy="257.1" r="1.85" fill="#000"/>
<circle cx="377.2" cy="259.1" r="1.85" fill="#000"/>
<rect x="273.55" y="162.75" width="160.95" height="115.55000000000001" fill="none" stroke="#000" stroke-width="2.8"/>
<line x1="305.74" y1="162.75" x2="305.74" y2="166.75" stroke="#000" stroke-width="1.3"/>
<line x1="305.74" y1="278.3" x2="305.74" y2="274.3" stroke="#000" stroke-width="1.3"/>
<line x1="273.55" y1="185.86" x2="277.55" y2="185.86" stroke="#000" stroke-width="1.3"/>
<line x1="434.5" y1="185.86" x2="430.5" y2="185.86" stroke="#000" stroke-width="1.3"/>
<line x1="337.93" y1="162.75" x2="337.93" y2="166.75" stroke="#000" stroke-width="1.3"/>
<line x1="337.93" y1="278.3" x2="337.93" y2="274.3" stroke="#000" stroke-width="1.3"/>
<line x1="273.55" y1="208.97" x2="277.55" y2="208.97" stroke="#000" stroke-width="1.3"/>
<line x1="434.5" y1="208.97" x2="430.5" y2="208.97" stroke="#000" stroke-width="1.3"/>
<line x1="370.12" y1="162.75" x2="370.12" y2="166.75" stroke="#000" stroke-width="1.3"/>
<line x1="370.12" y1="278.3" x2="370.12" y2="274.3" stroke="#000" stroke-width="1.3"/>
<line x1="273.55" y1="232.08" x2="277.55" y2="232.08" stroke="#000" stroke-width="1.3"/>
<line x1="434.5" y1="232.08" x2="430.5" y2="232.08" stroke="#000" stroke-width="1.3"/>
<line x1="402.31" y1="162.75" x2="402.31" y2="166.75" stroke="#000" stroke-width="1.3"/>
<line x1="402.31" y1="278.3" x2="402.31" y2="274.3" stroke="#000" stroke-width="1.3"/>
<line x1="273.55" y1="255.19" x2="277.55" y2="255.19" stroke="#000" stroke-width="1.3"/>
<line x1="434.5" y1="255.19" x2="430.5" y2="255.19" stroke="#000" stroke-width="1.3"/>
<text x="274.65" y="294.0" font-size="13.3" text-anchor="middle" fill="#000" stroke="#000" stroke-width="0.4">10</text>
<text x="306.84" y="294.0" font-size="13.3" text-anchor="middle" fill="#000" stroke="#000" stroke-width="0.4">20</text>
<text x="339.03" y="294.0" font-size="13.3" text-anchor="middle" fill="#000" stroke="#000" stroke-width="0.4">30</text>
<text x="371.22" y="294.0" font-size="13.3" text-anchor="middle" fill="#000" stroke="#000" stroke-width="0.4">40</text>
<text x="403.41" y="294.0" font-size="13.3" text-anchor="middle" fill="#000" stroke="#000" stroke-width="0.4">50</text>
<text x="435.60" y="294.0" font-size="13.3" text-anchor="middle" fill="#000" stroke="#000" stroke-width="0.4">60</text>
<text x="244.21" y="225.90" font-size="13.9" font-weight="normal" fill="#000" textLength="26.59" lengthAdjust="spacingAndGlyphs" stroke="#000" stroke-width="0.2">P(c)</text>
<text x="296.57" y="314.20" font-size="15.2" font-weight="normal" fill="#000" textLength="111.32" lengthAdjust="spacingAndGlyphs" >Intracellular Hb</text>
<text x="278.29" y="333.70" font-size="15.2" font-weight="normal" fill="#000" textLength="148.95" lengthAdjust="spacingAndGlyphs" >concentration (g/dL)</text>
<path d="M85.2 741.0 L86.8 739.8 L88.3 738.5 L89.9 737.1 L91.5 735.6 L93.0 734.1 L94.6 732.4 L96.2 730.6 L97.7 728.6 L99.3 726.5 L100.8 724.2 L102.4 721.8 L104.0 719.2 L105.5 716.6 L107.1 713.8 L108.7 710.8 L110.2 707.6 L111.8 704.2 L113.4 700.5 L114.9 696.6 L116.5 692.6 L118.1 688.4 L119.6 684.0 L121.2 679.0 L122.7 673.8 L124.3 668.7 L125.9 663.7 L127.4 658.6 L129.0 653.3 L130.6 647.9 L132.1 642.2 L133.7 636.5 L135.3 631.0 L136.8 626.0 L138.4 621.4 L140.0 617.0 L141.5 612.7 L143.1 608.6 L144.7 604.6 L146.2 600.8 L147.8 597.2 L149.3 593.4 L150.9 589.4 L152.5 585.0 L154.0 580.3 L155.6 575.7 L157.2 571.4 L158.7 567.5 L160.3 563.8 L161.9 560.3 L163.4 556.9 L165.0 553.5 L166.6 550.0 L168.1 546.6 L169.7 543.7 L171.2 541.2 L172.8 539.1 L174.4 536.9 L175.9 534.8 L177.5 532.6 L179.1 530.6 L180.6 528.8 L182.2 527.1 L183.8 525.5 L185.3 523.8 L186.9 522.1 L188.5 520.7 L190.0 519.5 L191.6 518.4 L193.1 517.3 L194.7 516.2 L196.3 515.2 L197.8 514.3 L199.4 513.5 L201.0 512.8 L202.5 512.1 L204.1 511.4 L205.7 510.7 L207.2 509.9 L208.8 509.0 L210.4 508.2 L211.9 507.5 L213.5 506.9 L215.1 506.3 L216.6 505.8 L218.2 505.3 L219.7 504.9 L221.3 504.5 L222.9 504.2 L224.4 503.9 L226.0 503.6 L227.6 503.3 L229.1 503.1 L230.7 502.8 L232.3 502.4 L233.8 502.1 L235.4 501.8 L237.0 501.4 L238.5 501.1 L240.1 500.8 L241.6 500.6 L243.2 500.3 L244.8 500.1 L246.3 499.9 L247.9 499.7 L249.5 499.5 L251.0 499.3 L252.6 499.2 L254.2 499.0 L255.7 498.8 L257.3 498.7 L258.9 498.5 L260.4 498.4 L262.0 498.2 L263.6 498.1 L265.1 498.0 L266.7 497.8 L268.2 497.7 L269.8 497.6 L271.4 497.4 L272.9 497.3 L274.5 497.2 L276.1 497.1 L277.6 497.0 L279.2 496.9 L280.8 496.8 L282.3 496.7 L283.9 496.6 L285.5 496.5 L287.0 496.4 L288.6 496.4 L290.1 496.3 L291.7 496.2 L293.3 496.2 L294.8 496.1 L296.4 496.1 L298.0 496.1 L299.5 496.0 L301.1 496.0 L302.7 495.9 L304.2 495.9 L305.8 495.8 L307.4 495.8 L308.9 495.7 L310.5 495.7 L312.0 495.6 L313.6 495.6 L315.2 495.5 L316.7 495.5 L318.3 495.4 L319.9 495.4 L321.4 495.3 L323.0 495.3 L324.6 495.2 L326.1 495.2 L327.7 495.1 L329.3 495.1 L330.8 495.0 L332.4 495.0 L334.0 494.9 L335.5 494.9 L337.1 494.9 L338.6 494.8 L340.2 494.8 L341.8 494.8 L343.3 494.7 L344.9 494.7 L346.5 494.7 L348.0 494.6 L349.6 494.6 L351.2 494.6 L352.7 494.6 L354.3 494.5 L355.9 494.5 L357.4 494.5 L359.0 494.5 L360.5 494.4 L362.1 494.4 L363.7 494.4 L365.2 494.4 L366.8 494.3 L368.4 494.3 L369.9 494.3 L371.5 494.3 L373.1 494.2 L374.6 494.2 L376.2 494.2 L377.8 494.2 L379.3 494.2 L380.9 494.1 L382.5 494.1 L384.0 494.1 L385.6 494.1 L387.1 494.1 L388.7 494.0 L390.3 494.0 L391.8 494.0 L393.4 494.0 L395.0 494.0 L396.5 493.9 L398.1 493.9 L399.7 493.9 L401.2 493.9 L402.8 493.9 L404.4 493.8 L405.9 493.8 L407.5 493.8 L409.0 493.8 L410.6 493.8 L412.2 493.7 L413.7 493.7 L415.3 493.7 L416.9 493.7 L418.4 493.7 L420.0 493.6 L421.6 493.6 L423.1 493.6 L424.7 493.6 L426.3 493.5 L427.8 493.5 L429.4 493.5 L430.9 493.5 L432.5 493.4 L434.1 493.4 L435.6 493.4 L437.2 493.4 L438.8 493.3 L440.3 493.3 L441.9 493.3 L443.5 493.2 L445.0 493.2 L446.6 493.2 L448.2 493.1 L449.7 493.1 L451.3 493.1 L452.9 493.0 L454.4 493.0 L456.0 493.0 L457.5 492.9 L459.1 492.9 L460.7 492.9 L462.2 492.8 L463.8 492.8 L465.4 492.7 L466.9 492.7 L468.5 492.7 L470.1 492.6 L471.6 492.6 L473.2 492.6 L474.8 492.5 L476.3 492.5 L477.9 492.4 L479.4 492.4 L481.0 492.3 L482.6 492.3 L484.1 492.3 L485.7 492.2 L487.3 492.2 L488.8 492.1 L490.4 492.1" fill="none" stroke="#c8102e" stroke-width="3.15"/>
<path d="M85.2 746.3 L86.8 745.6 L88.3 744.8 L89.9 743.8 L91.5 742.8 L93.0 741.6 L94.6 740.4 L96.2 738.9 L97.7 737.3 L99.3 735.6 L100.8 733.9 L102.4 732.1 L104.0 730.3 L105.5 728.4 L107.1 726.5 L108.7 724.5 L110.2 722.5 L111.8 720.5 L113.4 718.3 L114.9 716.0 L116.5 713.4 L118.1 710.6 L119.6 707.8 L121.2 704.9 L122.7 702.0 L124.3 699.1 L125.9 696.2 L127.4 693.1 L129.0 690.1 L130.6 687.0 L132.1 683.7 L133.7 680.4 L135.3 677.0 L136.8 673.4 L138.4 669.8 L140.0 666.0 L141.5 662.2 L143.1 658.5 L144.7 654.9 L146.2 651.4 L147.8 648.1 L149.3 644.6 L150.9 640.8 L152.5 636.8 L154.0 632.5 L155.6 627.7 L157.2 622.9 L158.7 618.3 L160.3 614.0 L161.9 609.8 L163.4 605.7 L165.0 601.8 L166.6 597.9 L168.1 594.0 L169.7 590.3 L171.2 586.7 L172.8 583.2 L174.4 579.8 L175.9 576.6 L177.5 573.6 L179.1 570.9 L180.6 568.4 L182.2 566.2 L183.8 564.0 L185.3 561.7 L186.9 559.5 L188.5 557.5 L190.0 555.7 L191.6 554.0 L193.1 552.6 L194.7 551.3 L196.3 550.2 L197.8 549.1 L199.4 548.1 L201.0 547.1 L202.5 546.1 L204.1 545.1 L205.7 544.1 L207.2 543.0 L208.8 541.9 L210.4 540.8 L211.9 539.8 L213.5 538.9 L215.1 538.0 L216.6 537.0 L218.2 536.1 L219.7 535.1 L221.3 534.1 L222.9 533.2 L224.4 532.3 L226.0 531.5 L227.6 530.9 L229.1 530.3 L230.7 529.8 L232.3 529.3 L233.8 528.8 L235.4 528.3 L237.0 527.9 L238.5 527.5 L240.1 527.1 L241.6 526.7 L243.2 526.3 L244.8 526.0 L246.3 525.5 L247.9 525.1 L249.5 524.7 L251.0 524.2 L252.6 523.8 L254.2 523.5 L255.7 523.2 L257.3 522.9 L258.9 522.6 L260.4 522.4 L262.0 522.1 L263.6 521.9 L265.1 521.7 L266.7 521.5 L268.2 521.3 L269.8 521.1 L271.4 521.0 L272.9 520.8 L274.5 520.6 L276.1 520.5 L277.6 520.3 L279.2 520.2 L280.8 520.1 L282.3 519.9 L283.9 519.8 L285.5 519.7 L287.0 519.5 L288.6 519.4 L290.1 519.3 L291.7 519.2 L293.3 519.0 L294.8 518.9 L296.4 518.8 L298.0 518.7 L299.5 518.5 L301.1 518.4 L302.7 518.3 L304.2 518.1 L305.8 518.0 L307.4 517.9 L308.9 517.7 L310.5 517.6 L312.0 517.4 L313.6 517.3 L315.2 517.2 L316.7 517.1 L318.3 517.0 L319.9 516.9 L321.4 516.8 L323.0 516.7 L324.6 516.6 L326.1 516.5 L327.7 516.4 L329.3 516.3 L330.8 516.2 L332.4 516.1 L334.0 516.1 L335.5 516.0 L337.1 515.9 L338.6 515.9 L340.2 515.8 L341.8 515.7 L343.3 515.7 L344.9 515.6 L346.5 515.5 L348.0 515.5 L349.6 515.4 L351.2 515.4 L352.7 515.3 L354.3 515.3 L355.9 515.2 L357.4 515.1 L359.0 515.1 L360.5 515.0 L362.1 515.0 L363.7 514.9 L365.2 514.9 L366.8 514.8 L368.4 514.8 L369.9 514.7 L371.5 514.7 L373.1 514.6 L374.6 514.6 L376.2 514.5 L377.8 514.5 L379.3 514.4 L380.9 514.4 L382.5 514.3 L384.0 514.3 L385.6 514.2 L387.1 514.2 L388.7 514.1 L390.3 514.1 L391.8 514.0 L393.4 514.0 L395.0 514.0 L396.5 513.9 L398.1 513.9 L399.7 513.8 L401.2 513.8 L402.8 513.7 L404.4 513.7 L405.9 513.7 L407.5 513.6 L409.0 513.6 L410.6 513.6 L412.2 513.5 L413.7 513.5 L415.3 513.4 L416.9 513.4 L418.4 513.4 L420.0 513.3 L421.6 513.3 L423.1 513.3 L424.7 513.2 L426.3 513.2 L427.8 513.2 L429.4 513.1 L430.9 513.1 L432.5 513.1 L434.1 513.0 L435.6 513.0 L437.2 513.0 L438.8 512.9 L440.3 512.9 L441.9 512.9 L443.5 512.8 L445.0 512.8 L446.6 512.8 L448.2 512.7 L449.7 512.7 L451.3 512.7 L452.9 512.7 L454.4 512.6 L456.0 512.6 L457.5 512.6 L459.1 512.5 L460.7 512.5 L462.2 512.5 L463.8 512.5 L465.4 512.4 L466.9 512.4 L468.5 512.4 L470.1 512.4 L471.6 512.3 L473.2 512.3 L474.8 512.3 L476.3 512.3 L477.9 512.3 L479.4 512.2 L481.0 512.2 L482.6 512.2 L484.1 512.2 L485.7 512.2 L487.3 512.1 L488.8 512.1 L490.4 512.1" fill="none" stroke="#c8102e" stroke-width="3.15"/>
<path d="M85.2 753.2 L86.8 752.7 L88.3 752.2 L89.9 751.6 L91.5 751.0 L93.0 750.5 L94.6 749.9 L96.2 749.3 L97.7 748.6 L99.3 748.0 L100.8 747.3 L102.4 746.7 L104.0 746.0 L105.5 745.3 L107.1 744.5 L108.7 743.8 L110.2 743.0 L111.8 742.2 L113.4 741.3 L114.9 740.5 L116.5 739.6 L118.1 738.6 L119.6 737.6 L121.2 736.4 L122.7 735.2 L124.3 733.9 L125.9 732.5 L127.4 731.1 L129.0 729.6 L130.6 728.1 L132.1 726.4 L133.7 724.7 L135.3 722.8 L136.8 720.8 L138.4 718.6 L140.0 716.1 L141.5 713.5 L143.1 710.8 L144.7 708.0 L146.2 705.2 L147.8 702.1 L149.3 698.8 L150.9 695.2 L152.5 691.2 L154.0 686.7 L155.6 682.1 L157.2 676.9 L158.7 671.6 L160.3 666.3 L161.9 661.1 L163.4 656.0 L165.0 650.9 L166.6 646.1 L168.1 641.4 L169.7 636.8 L171.2 632.5 L172.8 628.4 L174.4 624.5 L175.9 620.8 L177.5 617.5 L179.1 614.4 L180.6 611.5 L182.2 608.7 L183.8 605.8 L185.3 603.0 L186.9 600.3 L188.5 597.7 L190.0 595.2 L191.6 592.8 L193.1 590.6 L194.7 588.4 L196.3 586.2 L197.8 584.2 L199.4 582.3 L201.0 580.4 L202.5 578.7 L204.1 577.0 L205.7 575.4 L207.2 573.9 L208.8 572.5 L210.4 571.2 L211.9 570.0 L213.5 568.7 L215.1 567.6 L216.6 566.4 L218.2 565.2 L219.7 564.1 L221.3 563.0 L222.9 562.0 L224.4 561.1 L226.0 560.2 L227.6 559.4 L229.1 558.5 L230.7 557.8 L232.3 557.0 L233.8 556.2 L235.4 555.5 L237.0 554.8 L238.5 554.1 L240.1 553.5 L241.6 552.8 L243.2 552.1 L244.8 551.4 L246.3 550.7 L247.9 550.0 L249.5 549.4 L251.0 548.9 L252.6 548.3 L254.2 547.9 L255.7 547.4 L257.3 547.0 L258.9 546.5 L260.4 546.1 L262.0 545.8 L263.6 545.4 L265.1 545.0 L266.7 544.7 L268.2 544.4 L269.8 544.1 L271.4 543.8 L272.9 543.5 L274.5 543.2 L276.1 542.9 L277.6 542.7 L279.2 542.4 L280.8 542.2 L282.3 542.0 L283.9 541.7 L285.5 541.5 L287.0 541.3 L288.6 541.0 L290.1 540.8 L291.7 540.6 L293.3 540.3 L294.8 540.1 L296.4 539.9 L298.0 539.7 L299.5 539.5 L301.1 539.4 L302.7 539.3 L304.2 539.1 L305.8 539.0 L307.4 538.9 L308.9 538.7 L310.5 538.6 L312.0 538.5 L313.6 538.4 L315.2 538.3 L316.7 538.2 L318.3 538.1 L319.9 538.0 L321.4 537.9 L323.0 537.8 L324.6 537.7 L326.1 537.6 L327.7 537.5 L329.3 537.5 L330.8 537.4 L332.4 537.3 L334.0 537.2 L335.5 537.1 L337.1 537.1 L338.6 537.0 L340.2 536.9 L341.8 536.8 L343.3 536.7 L344.9 536.6 L346.5 536.6 L348.0 536.5 L349.6 536.4 L351.2 536.3 L352.7 536.3 L354.3 536.2 L355.9 536.1 L357.4 536.0 L359.0 535.9 L360.5 535.9 L362.1 535.8 L363.7 535.7 L365.2 535.6 L366.8 535.6 L368.4 535.5 L369.9 535.4 L371.5 535.3 L373.1 535.3 L374.6 535.2 L376.2 535.1 L377.8 535.1 L379.3 535.0 L380.9 534.9 L382.5 534.8 L384.0 534.8 L385.6 534.7 L387.1 534.6 L388.7 534.6 L390.3 534.5 L391.8 534.4 L393.4 534.4 L395.0 534.3 L396.5 534.3 L398.1 534.2 L399.7 534.1 L401.2 534.1 L402.8 534.0 L404.4 533.9 L405.9 533.9 L407.5 533.8 L409.0 533.8 L410.6 533.7 L412.2 533.7 L413.7 533.6 L415.3 533.5 L416.9 533.5 L418.4 533.4 L420.0 533.4 L421.6 533.3 L423.1 533.3 L424.7 533.2 L426.3 533.2 L427.8 533.1 L429.4 533.1 L430.9 533.0 L432.5 533.0 L434.1 533.0 L435.6 532.9 L437.2 532.9 L438.8 532.8 L440.3 532.8 L441.9 532.8 L443.5 532.7 L445.0 532.7 L446.6 532.6 L448.2 532.6 L449.7 532.6 L451.3 532.5 L452.9 532.5 L454.4 532.4 L456.0 532.4 L457.5 532.4 L459.1 532.3 L460.7 532.3 L462.2 532.3 L463.8 532.2 L465.4 532.2 L466.9 532.2 L468.5 532.2 L470.1 532.1 L471.6 532.1 L473.2 532.1 L474.8 532.0 L476.3 532.0 L477.9 532.0 L479.4 532.0 L481.0 531.9 L482.6 531.9 L484.1 531.9 L485.7 531.9 L487.3 531.8 L488.8 531.8 L490.4 531.8" fill="none" stroke="#c8102e" stroke-width="3.15"/>
<line x1="90.10" y1="674.00" x2="90.10" y2="737.20" stroke="#0f4b8b" stroke-width="1.95"/>
<line x1="87.70" y1="737.20" x2="92.50" y2="737.20" stroke="#0f4b8b" stroke-width="1.95"/>
<line x1="87.70" y1="674.00" x2="92.50" y2="674.00" stroke="#0f4b8b" stroke-width="1.95"/>
<circle cx="90.10" cy="705.60" r="3.05" fill="#0f4b8b"/>
<line x1="101.50" y1="645.50" x2="101.50" y2="727.10" stroke="#0f4b8b" stroke-width="1.95"/>
<line x1="99.10" y1="727.10" x2="103.90" y2="727.10" stroke="#0f4b8b" stroke-width="1.95"/>
<line x1="99.10" y1="645.50" x2="103.90" y2="645.50" stroke="#0f4b8b" stroke-width="1.95"/>
<circle cx="101.50" cy="686.30" r="3.05" fill="#0f4b8b"/>
<line x1="112.89" y1="619.90" x2="112.89" y2="717.90" stroke="#0f4b8b" stroke-width="1.95"/>
<line x1="110.49" y1="717.90" x2="115.29" y2="717.90" stroke="#0f4b8b" stroke-width="1.95"/>
<line x1="110.49" y1="619.90" x2="115.29" y2="619.90" stroke="#0f4b8b" stroke-width="1.95"/>
<circle cx="112.89" cy="668.90" r="3.05" fill="#0f4b8b"/>
<line x1="124.29" y1="593.50" x2="124.29" y2="705.50" stroke="#0f4b8b" stroke-width="1.95"/>
<line x1="121.89" y1="705.50" x2="126.69" y2="705.50" stroke="#0f4b8b" stroke-width="1.95"/>
<line x1="121.89" y1="593.50" x2="126.69" y2="593.50" stroke="#0f4b8b" stroke-width="1.95"/>
<circle cx="124.29" cy="649.50" r="3.05" fill="#0f4b8b"/>
<line x1="135.69" y1="564.40" x2="135.69" y2="687.40" stroke="#0f4b8b" stroke-width="1.95"/>
<line x1="133.29" y1="687.40" x2="138.09" y2="687.40" stroke="#0f4b8b" stroke-width="1.95"/>
<line x1="133.29" y1="564.40" x2="138.09" y2="564.40" stroke="#0f4b8b" stroke-width="1.95"/>
<circle cx="135.69" cy="625.90" r="3.05" fill="#0f4b8b"/>
<line x1="147.08" y1="540.30" x2="147.08" y2="667.30" stroke="#0f4b8b" stroke-width="1.95"/>
<line x1="144.68" y1="667.30" x2="149.48" y2="667.30" stroke="#0f4b8b" stroke-width="1.95"/>
<line x1="144.68" y1="540.30" x2="149.48" y2="540.30" stroke="#0f4b8b" stroke-width="1.95"/>
<circle cx="147.08" cy="603.80" r="3.05" fill="#0f4b8b"/>
<line x1="158.48" y1="522.80" x2="158.48" y2="648.80" stroke="#0f4b8b" stroke-width="1.95"/>
<line x1="156.08" y1="648.80" x2="160.88" y2="648.80" stroke="#0f4b8b" stroke-width="1.95"/>
<line x1="156.08" y1="522.80" x2="160.88" y2="522.80" stroke="#0f4b8b" stroke-width="1.95"/>
<circle cx="158.48" cy="585.80" r="3.05" fill="#0f4b8b"/>
<line x1="169.88" y1="509.30" x2="169.88" y2="633.70" stroke="#0f4b8b" stroke-width="1.95"/>
<line x1="167.48" y1="633.70" x2="172.28" y2="633.70" stroke="#0f4b8b" stroke-width="1.95"/>
<line x1="167.48" y1="509.30" x2="172.28" y2="509.30" stroke="#0f4b8b" stroke-width="1.95"/>
<circle cx="169.88" cy="571.50" r="3.05" fill="#0f4b8b"/>
<line x1="181.28" y1="500.00" x2="181.28" y2="621.00" stroke="#0f4b8b" stroke-width="1.95"/>
<line x1="178.88" y1="621.00" x2="183.68" y2="621.00" stroke="#0f4b8b" stroke-width="1.95"/>
<line x1="178.88" y1="500.00" x2="183.68" y2="500.00" stroke="#0f4b8b" stroke-width="1.95"/>
<circle cx="181.28" cy="560.50" r="3.05" fill="#0f4b8b"/>
<line x1="192.67" y1="493.20" x2="192.67" y2="611.20" stroke="#0f4b8b" stroke-width="1.95"/>
<line x1="190.27" y1="611.20" x2="195.07" y2="611.20" stroke="#0f4b8b" stroke-width="1.95"/>
<line x1="190.27" y1="493.20" x2="195.07" y2="493.20" stroke="#0f4b8b" stroke-width="1.95"/>
<circle cx="192.67" cy="552.20" r="3.05" fill="#0f4b8b"/>
<line x1="204.07" y1="487.80" x2="204.07" y2="603.80" stroke="#0f4b8b" stroke-width="1.95"/>
<line x1="201.67" y1="603.80" x2="206.47" y2="603.80" stroke="#0f4b8b" stroke-width="1.95"/>
<line x1="201.67" y1="487.80" x2="206.47" y2="487.80" stroke="#0f4b8b" stroke-width="1.95"/>
<circle cx="204.07" cy="545.80" r="3.05" fill="#0f4b8b"/>
<line x1="215.47" y1="483.20" x2="215.47" y2="597.80" stroke="#0f4b8b" stroke-width="1.95"/>
<line x1="213.07" y1="597.80" x2="217.87" y2="597.80" stroke="#0f4b8b" stroke-width="1.95"/>
<line x1="213.07" y1="483.20" x2="217.87" y2="483.20" stroke="#0f4b8b" stroke-width="1.95"/>
<circle cx="215.47" cy="540.50" r="3.05" fill="#0f4b8b"/>
<line x1="226.86" y1="479.80" x2="226.86" y2="591.80" stroke="#0f4b8b" stroke-width="1.95"/>
<line x1="224.46" y1="591.80" x2="229.26" y2="591.80" stroke="#0f4b8b" stroke-width="1.95"/>
<line x1="224.46" y1="479.80" x2="229.26" y2="479.80" stroke="#0f4b8b" stroke-width="1.95"/>
<circle cx="226.86" cy="535.80" r="3.05" fill="#0f4b8b"/>
<line x1="238.26" y1="476.80" x2="238.26" y2="588.80" stroke="#0f4b8b" stroke-width="1.95"/>
<line x1="235.86" y1="588.80" x2="240.66" y2="588.80" stroke="#0f4b8b" stroke-width="1.95"/>
<line x1="235.86" y1="476.80" x2="240.66" y2="476.80" stroke="#0f4b8b" stroke-width="1.95"/>
<circle cx="238.26" cy="532.80" r="3.05" fill="#0f4b8b"/>
<line x1="249.66" y1="474.00" x2="249.66" y2="585.40" stroke="#0f4b8b" stroke-width="1.95"/>
<line x1="247.26" y1="585.40" x2="252.06" y2="585.40" stroke="#0f4b8b" stroke-width="1.95"/>
<line x1="247.26" y1="474.00" x2="252.06" y2="474.00" stroke="#0f4b8b" stroke-width="1.95"/>
<circle cx="249.66" cy="529.70" r="3.05" fill="#0f4b8b"/>
<line x1="261.06" y1="472.20" x2="261.06" y2="582.20" stroke="#0f4b8b" stroke-width="1.95"/>
<line x1="258.66" y1="582.20" x2="263.45" y2="582.20" stroke="#0f4b8b" stroke-width="1.95"/>
<line x1="258.66" y1="472.20" x2="263.45" y2="472.20" stroke="#0f4b8b" stroke-width="1.95"/>
<circle cx="261.06" cy="527.20" r="3.05" fill="#0f4b8b"/>
<line x1="272.45" y1="469.20" x2="272.45" y2="580.60" stroke="#0f4b8b" stroke-width="1.95"/>
<line x1="270.05" y1="580.60" x2="274.85" y2="580.60" stroke="#0f4b8b" stroke-width="1.95"/>
<line x1="270.05" y1="469.20" x2="274.85" y2="469.20" stroke="#0f4b8b" stroke-width="1.95"/>
<circle cx="272.45" cy="524.90" r="3.05" fill="#0f4b8b"/>
<line x1="283.85" y1="467.80" x2="283.85" y2="578.40" stroke="#0f4b8b" stroke-width="1.95"/>
<line x1="281.45" y1="578.40" x2="286.25" y2="578.40" stroke="#0f4b8b" stroke-width="1.95"/>
<line x1="281.45" y1="467.80" x2="286.25" y2="467.80" stroke="#0f4b8b" stroke-width="1.95"/>
<circle cx="283.85" cy="523.10" r="3.05" fill="#0f4b8b"/>
<line x1="295.25" y1="466.60" x2="295.25" y2="576.60" stroke="#0f4b8b" stroke-width="1.95"/>
<line x1="292.85" y1="576.60" x2="297.65" y2="576.60" stroke="#0f4b8b" stroke-width="1.95"/>
<line x1="292.85" y1="466.60" x2="297.65" y2="466.60" stroke="#0f4b8b" stroke-width="1.95"/>
<circle cx="295.25" cy="521.60" r="3.05" fill="#0f4b8b"/>
<line x1="306.64" y1="465.60" x2="306.64" y2="575.10" stroke="#0f4b8b" stroke-width="1.95"/>
<line x1="304.24" y1="575.10" x2="309.04" y2="575.10" stroke="#0f4b8b" stroke-width="1.95"/>
<circle cx="306.64" cy="520.10" r="3.05" fill="#0f4b8b"/>
<line x1="318.04" y1="465.60" x2="318.04" y2="573.80" stroke="#0f4b8b" stroke-width="1.95"/>
<line x1="315.64" y1="573.80" x2="320.44" y2="573.80" stroke="#0f4b8b" stroke-width="1.95"/>
<circle cx="318.04" cy="518.80" r="3.05" fill="#0f4b8b"/>
<line x1="329.44" y1="465.60" x2="329.44" y2="573.00" stroke="#0f4b8b" stroke-width="1.95"/>
<line x1="327.04" y1="573.00" x2="331.84" y2="573.00" stroke="#0f4b8b" stroke-width="1.95"/>
<circle cx="329.44" cy="518.00" r="3.05" fill="#0f4b8b"/>
<line x1="340.83" y1="465.60" x2="340.83" y2="571.90" stroke="#0f4b8b" stroke-width="1.95"/>
<line x1="338.43" y1="571.90" x2="343.23" y2="571.90" stroke="#0f4b8b" stroke-width="1.95"/>
<circle cx="340.83" cy="516.90" r="3.05" fill="#0f4b8b"/>
<line x1="352.23" y1="465.60" x2="352.23" y2="571.20" stroke="#0f4b8b" stroke-width="1.95"/>
<line x1="349.83" y1="571.20" x2="354.63" y2="571.20" stroke="#0f4b8b" stroke-width="1.95"/>
<circle cx="352.23" cy="516.20" r="3.05" fill="#0f4b8b"/>
<line x1="363.63" y1="465.60" x2="363.63" y2="570.40" stroke="#0f4b8b" stroke-width="1.95"/>
<line x1="361.23" y1="570.40" x2="366.03" y2="570.40" stroke="#0f4b8b" stroke-width="1.95"/>
<circle cx="363.63" cy="515.40" r="3.05" fill="#0f4b8b"/>
<line x1="375.02" y1="465.60" x2="375.02" y2="569.60" stroke="#0f4b8b" stroke-width="1.95"/>
<line x1="372.62" y1="569.60" x2="377.42" y2="569.60" stroke="#0f4b8b" stroke-width="1.95"/>
<circle cx="375.02" cy="514.60" r="3.05" fill="#0f4b8b"/>
<line x1="386.42" y1="465.60" x2="386.42" y2="569.20" stroke="#0f4b8b" stroke-width="1.95"/>
<line x1="384.02" y1="569.20" x2="388.82" y2="569.20" stroke="#0f4b8b" stroke-width="1.95"/>
<circle cx="386.42" cy="514.20" r="3.05" fill="#0f4b8b"/>
<line x1="397.82" y1="465.60" x2="397.82" y2="568.80" stroke="#0f4b8b" stroke-width="1.95"/>
<line x1="395.42" y1="568.80" x2="400.22" y2="568.80" stroke="#0f4b8b" stroke-width="1.95"/>
<circle cx="397.82" cy="513.90" r="3.05" fill="#0f4b8b"/>
<line x1="409.22" y1="465.60" x2="409.22" y2="568.20" stroke="#0f4b8b" stroke-width="1.95"/>
<line x1="406.82" y1="568.20" x2="411.62" y2="568.20" stroke="#0f4b8b" stroke-width="1.95"/>
<circle cx="409.22" cy="513.50" r="3.05" fill="#0f4b8b"/>
<line x1="420.61" y1="465.60" x2="420.61" y2="567.60" stroke="#0f4b8b" stroke-width="1.95"/>
<line x1="418.21" y1="567.60" x2="423.01" y2="567.60" stroke="#0f4b8b" stroke-width="1.95"/>
<circle cx="420.61" cy="513.10" r="3.05" fill="#0f4b8b"/>
<line x1="432.01" y1="465.60" x2="432.01" y2="567.00" stroke="#0f4b8b" stroke-width="1.95"/>
<line x1="429.61" y1="567.00" x2="434.41" y2="567.00" stroke="#0f4b8b" stroke-width="1.95"/>
<circle cx="432.01" cy="512.70" r="3.05" fill="#0f4b8b"/>
<line x1="443.41" y1="465.60" x2="443.41" y2="566.10" stroke="#0f4b8b" stroke-width="1.95"/>
<line x1="441.01" y1="566.10" x2="445.81" y2="566.10" stroke="#0f4b8b" stroke-width="1.95"/>
<circle cx="443.41" cy="512.20" r="3.05" fill="#0f4b8b"/>
<line x1="85.3" y1="451.4" x2="85.3" y2="764.3" stroke="#000" stroke-width="2.6"/>
<line x1="77.7" y1="757.6" x2="503.5" y2="757.6" stroke="#000" stroke-width="2.5"/>
<line x1="77.7" y1="611.73" x2="85.3" y2="611.73" stroke="#000" stroke-width="1.8"/>
<line x1="77.7" y1="465.85" x2="85.3" y2="465.85" stroke="#000" stroke-width="1.8"/>
<line x1="220.30" y1="757.6" x2="220.30" y2="764.3" stroke="#000" stroke-width="1.8"/>
<line x1="355.30" y1="757.6" x2="355.30" y2="764.3" stroke="#000" stroke-width="1.8"/>
<line x1="490.30" y1="757.6" x2="490.30" y2="764.3" stroke="#000" stroke-width="1.8"/>
<text x="62.25" y="470.80" font-size="17" font-weight="normal" fill="#000" textLength="6.19" lengthAdjust="spacingAndGlyphs" >1</text>
<text x="47.03" y="616.60" font-size="17" font-weight="normal" fill="#000" textLength="23.68" lengthAdjust="spacingAndGlyphs" >0.5</text>
<text x="61.26" y="762.70" font-size="17" font-weight="normal" fill="#000" textLength="10.47" lengthAdjust="spacingAndGlyphs" >0</text>
<text x="80.26" y="783.90" font-size="17" font-weight="normal" fill="#000" textLength="10.47" lengthAdjust="spacingAndGlyphs" >0</text>
<text x="205.62" y="783.80" font-size="17" font-weight="normal" fill="#000" textLength="29.27" lengthAdjust="spacingAndGlyphs" >200</text>
<text x="340.40" y="783.80" font-size="17" font-weight="normal" fill="#000" textLength="28.77" lengthAdjust="spacingAndGlyphs" >400</text>
<text x="475.60" y="783.70" font-size="17" font-weight="normal" fill="#000" textLength="29.70" lengthAdjust="spacingAndGlyphs" >600</text>
<text x="152.73" y="809.90" font-size="20.5" font-weight="normal" fill="#000" textLength="284.20" lengthAdjust="spacingAndGlyphs" >Time after start of deoxygenation (min)</text>
<text transform="translate(32.80,690.12) rotate(-90)" x="0" y="0" font-size="21" font-weight="normal" fill="#000" textLength="165.89" lengthAdjust="spacingAndGlyphs" xml:space="preserve">Fraction SS cells  sickled</text>
<text x="102.47" y="474.00" font-size="20.8" font-weight="normal" fill="#0f4b8b" textLength="60.96" lengthAdjust="spacingAndGlyphs" >Exper.</text>
<text x="92.52" y="499.00" font-size="20.8" font-weight="normal" fill="#c8102e" textLength="79.01" lengthAdjust="spacingAndGlyphs" >Theoret.</text>
<text x="19.17" y="453.25" font-size="25.1" font-weight="bold" fill="#000" textLength="15.99" lengthAdjust="spacingAndGlyphs" stroke="#000" stroke-width="0.9">B</text>
<rect x="269.35" y="584.5" width="163.45" height="115.5" fill="#fff"/>
<path d="M289.0 698.8 L289.4 698.7 L289.7 698.6 L290.1 698.5 L290.4 698.3 L290.8 698.2 L291.2 698.1 L291.5 698.0 L291.9 697.8 L292.2 697.7 L292.6 697.5 L292.9 697.4 L293.3 697.3 L293.7 697.1 L294.0 697.0 L294.4 696.8 L294.7 696.6 L295.1 696.5 L295.5 696.3 L295.8 696.2 L296.2 696.0 L296.5 695.9 L296.9 695.7 L297.2 695.5 L297.6 695.4 L298.0 695.2 L298.3 695.1 L298.7 694.9 L299.0 694.8 L299.4 694.6 L299.8 694.5 L300.1 694.3 L300.5 694.2 L300.8 694.1 L301.2 693.9 L301.5 693.8 L301.9 693.7 L302.3 693.5 L302.6 693.4 L303.0 693.3 L303.3 693.2 L303.7 693.0 L304.1 692.9 L304.4 692.8 L304.8 692.6 L305.1 692.5 L305.5 692.4 L305.8 692.3 L306.2 692.1 L306.6 692.0 L306.9 691.9 L307.3 691.7 L307.6 691.6 L308.0 691.4 L308.4 691.3 L308.7 691.1 L309.1 691.0 L309.4 690.8 L309.8 690.6 L310.1 690.5 L310.5 690.3 L310.9 690.2 L311.2 690.0 L311.6 689.8 L311.9 689.6 L312.3 689.5 L312.7 689.3 L313.0 689.1 L313.4 688.9 L313.7 688.7 L314.1 688.5 L314.4 688.3 L314.8 688.1 L315.2 687.9 L315.5 687.7 L315.9 687.5 L316.2 687.3 L316.6 687.1 L317.0 686.9 L317.3 686.7 L317.7 686.4 L318.0 686.2 L318.4 686.0 L318.7 685.7 L319.1 685.5 L319.5 685.2 L319.8 684.9 L320.2 684.6 L320.5 684.3 L320.9 683.9 L321.3 683.5 L321.6 683.1 L322.0 682.6 L322.3 682.1 L322.7 681.6 L323.0 681.1 L323.4 680.5 L323.8 680.0 L324.1 679.4 L324.5 678.9 L324.8 678.3 L325.2 677.7 L325.6 677.1 L325.9 676.5 L326.3 675.9 L326.6 675.2 L327.0 674.5 L327.3 673.9 L327.7 673.2 L328.1 672.5 L328.4 671.8 L328.8 671.0 L329.1 670.3 L329.5 669.5 L329.9 668.7 L330.2 667.8 L330.6 667.0 L330.9 666.2 L331.3 665.3 L331.6 664.5 L332.0 663.6 L332.4 662.7 L332.7 661.8 L333.1 660.8 L333.4 659.8 L333.8 658.8 L334.2 657.7 L334.5 656.6 L334.9 655.5 L335.2 654.2 L335.6 652.7 L335.9 651.2 L336.3 649.1 L336.7 646.7 L337.0 644.2 L337.4 641.7 L337.7 639.6 L338.1 637.5 L338.5 635.6 L338.8 633.6 L339.2 631.8 L339.5 629.9 L339.9 628.0 L340.3 626.1 L340.6 624.3 L341.0 622.4 L341.3 620.6 L341.7 618.9 L342.0 617.2 L342.4 615.6 L342.8 614.1 L343.1 612.6 L343.5 611.2 L343.8 609.8 L344.2 608.4 L344.6 607.0 L344.9 605.6 L345.3 604.3 L345.6 603.2 L346.0 602.2 L346.3 601.1 L346.7 600.1 L347.1 599.1 L347.4 598.3 L347.8 597.7 L348.1 597.3 L348.5 597.3 L348.9 597.6 L349.2 598.0 L349.6 598.5 L349.9 599.1 L350.3 599.9 L350.6 600.6 L351.0 601.5 L351.4 602.8 L351.7 604.2 L352.1 605.8 L352.4 607.5 L352.8 609.2 L353.2 610.9 L353.5 612.4 L353.9 614.1 L354.2 615.8 L354.6 617.5 L354.9 619.2 L355.3 621.0 L355.7 622.7 L356.0 624.4 L356.4 626.1 L356.7 627.6 L357.1 629.1 L357.5 630.5 L357.8 631.8 L358.2 633.0 L358.5 634.2 L358.9 635.4 L359.2 636.6 L359.6 637.7 L360.0 638.8 L360.3 639.9 L360.7 640.9 L361.0 642.0 L361.4 643.1 L361.8 644.2 L362.1 645.2 L362.5 646.3 L362.8 647.5 L363.2 648.6 L363.5 649.8 L363.9 650.9 L364.3 652.0 L364.6 653.0 L365.0 654.0 L365.3 654.9 L365.7 655.7 L366.1 656.4 L366.4 657.1 L366.8 657.7 L367.1 658.3 L367.5 658.9 L367.8 659.4 L368.2 660.0 L368.6 660.5 L368.9 661.1 L369.3 661.6 L369.6 662.2 L370.0 662.8 L370.4 663.4 L370.7 664.1 L371.1 664.7 L371.4 665.2 L371.8 665.8 L372.1 666.4 L372.5 666.9 L372.9 667.3 L373.2 667.8 L373.6 668.2 L373.9 668.5 L374.3 668.9 L374.7 669.2 L375.0 669.5 L375.4 669.8 L375.7 670.1 L376.1 670.5 L376.4 670.8 L376.8 671.1 L377.2 671.5 L377.5 671.8 L377.9 672.2 L378.2 672.6 L378.6 673.0 L379.0 673.5 L379.3 673.9 L379.7 674.4 L380.0 674.8 L380.4 675.3 L380.7 675.7 L381.1 676.1 L381.5 676.6 L381.8 677.0 L382.2 677.4 L382.5 677.9 L382.9 678.3 L383.3 678.7 L383.6 679.2 L384.0 679.6 L384.3 680.0 L384.7 680.5 L385.1 680.9 L385.4 681.4 L385.8 681.8 L386.1 682.3 L386.5 682.8 L386.8 683.3 L387.2 683.8 L387.6 684.4 L387.9 684.9 L388.3 685.4 L388.6 685.9 L389.0 686.4 L389.4 686.9 L389.7 687.4 L390.1 687.8 L390.4 688.2 L390.8 688.6 L391.1 689.0 L391.5 689.3 L391.9 689.6 L392.2 689.9 L392.6 690.1 L392.9 690.4 L393.3 690.7 L393.7 690.9 L394.0 691.1 L394.4 691.4 L394.7 691.6 L395.1 691.8 L395.4 692.0 L395.8 692.2 L396.2 692.4 L396.5 692.6 L396.9 692.8 L397.2 692.9 L397.6 693.1 L398.0 693.3 L398.3 693.4 L398.7 693.6 L399.0 693.7 L399.4 693.9 L399.7 694.0 L400.1 694.1 L400.5 694.3 L400.8 694.4 L401.2 694.5 L401.5 694.6 L401.9 694.8 L402.3 694.9 L402.6 695.0 L403.0 695.1 L403.3 695.2 L403.7 695.3 L404.0 695.4 L404.4 695.5 L404.8 695.6 L405.1 695.6 L405.5 695.7 L405.8 695.8 L406.2 695.9 L406.6 695.9 L406.9 696.0 L407.3 696.1 L407.6 696.1 L408.0 696.2 L408.3 696.2 L408.7 696.3 L409.1 696.3 L409.4 696.4 L409.8 696.4 L410.1 696.5 L410.5 696.5 L410.9 696.6 L411.2 696.6 L411.6 696.7 L411.9 696.7 L412.3 696.8 L412.6 696.9 L413.0 696.9 L413.4 697.0 L413.7 697.0 L414.1 697.1 L414.4 697.1 L414.8 697.2 L415.2 697.2 L415.5 697.3 L415.9 697.4 L416.2 697.4 L416.6 697.5 L416.9 697.5 L417.3 697.6 L417.7 697.6 L418.0 697.7 L418.4 697.8 L418.7 697.8 L419.1 697.9 L419.5 697.9 L419.8 698.0 L420.2 698.1 L420.5 698.1 L420.9 698.2 L421.2 698.3 L421.6 698.3 L422.0 698.4 L422.3 698.5 L422.7 698.5 L423.0 698.6 L423.4 698.7 L423.8 698.7 L424.1 698.8 L424.5 698.9 L424.8 699.0 L425.2 699.0 L425.5 699.1 L425.9 699.2 L426.3 699.3 L426.6 699.3 L427.0 699.4 L427.3 699.5 L427.7 699.6 L428.1 699.7 L428.4 699.7 L428.8 699.8 L429.1 699.9 L429.5 700.0 L429.8 700.1 L430.2 700.2 L430.6 700.2 L430.9 700.3 L431.3 700.4 L431.6 700.5 L432.0 700.6" fill="none" stroke="#45b94c" stroke-width="3.3"/>
<path d="M291.0 697.6 L291.6 697.4 L292.2 697.2 L292.8 697.0 L293.4 696.7 L294.1 696.4 L294.7 696.2 L295.3 695.9 L295.9 695.6 L296.5 695.4 L297.1 695.1 L297.7 694.8 L298.3 694.6 L298.9 694.3 L299.5 694.1 L300.2 693.8 L300.8 693.6 L301.4 693.4 L302.0 693.1 L302.6 692.9 L303.2 692.7 L303.8 692.5 L304.4 692.3 L305.0 692.1 L305.6 691.8 L306.3 691.6 L306.9 691.4 L307.5 691.1 L308.1 690.9 L308.7 690.6 L309.3 690.4 L309.9 690.1 L310.5 689.8 L311.1 689.5 L311.7 689.2 L312.4 688.9 L313.0 688.6 L313.6 688.3 L314.2 688.0 L314.8 687.6 L315.4 687.3 L316.0 686.9 L316.6 686.6 L317.2 686.2 L317.8 685.8 L318.5 685.4 L319.1 685.0 L319.7 684.5 L320.3 684.0 L320.9 683.4 L321.5 682.7 L322.1 681.9 L322.7 681.0 L323.3 680.1 L323.9 679.2 L324.6 678.3 L325.2 677.3 L325.8 676.2 L326.4 675.2 L327.0 674.0" fill="none" stroke="#000" stroke-width="3.0" stroke-linecap="round"/>
<circle cx="290.4" cy="697.6" r="1.9" fill="#000"/>
<circle cx="294.4" cy="695.9" r="1.9" fill="#000"/>
<circle cx="296.8" cy="694.9" r="1.9" fill="#000"/>
<circle cx="300.0" cy="693.8" r="1.9" fill="#000"/>
<circle cx="303.9" cy="692.7" r="1.9" fill="#000"/>
<circle cx="305.2" cy="692.4" r="1.9" fill="#000"/>
<circle cx="309.8" cy="689.9" r="1.9" fill="#000"/>
<circle cx="312.3" cy="689.0" r="1.9" fill="#000"/>
<circle cx="314.0" cy="687.7" r="1.9" fill="#000"/>
<circle cx="317.3" cy="685.6" r="1.9" fill="#000"/>
<circle cx="321.5" cy="682.2" r="1.9" fill="#000"/>
<circle cx="323.6" cy="680.3" r="1.9" fill="#000"/>
<path d="M379.0 673.0 L379.9 674.1 L380.7 675.2 L381.6 676.2 L382.5 677.3 L383.3 678.3 L384.2 679.4 L385.1 680.4 L385.9 681.5 L386.8 682.7 L387.6 684.0 L388.5 685.2 L389.4 686.4 L390.2 687.5 L391.1 688.4 L392.0 689.2 L392.8 689.8 L393.7 690.4 L394.6 691.0 L395.4 691.5 L396.3 692.0 L397.2 692.4 L398.0 692.8 L398.9 693.2 L399.7 693.5 L400.6 693.8 L401.5 694.1 L402.3 694.4 L403.2 694.7 L404.1 694.9 L404.9 695.1 L405.8 695.3 L406.7 695.4 L407.5 695.6 L408.4 695.7 L409.3 695.9 L410.1 696.0 L411.0 696.1 L411.8 696.2 L412.7 696.4 L413.6 696.5 L414.4 696.6 L415.3 696.8 L416.2 696.9 L417.0 697.0 L417.9 697.2 L418.8 697.3 L419.6 697.5 L420.5 697.6 L421.4 697.8 L422.2 697.9 L423.1 698.1 L423.9 698.3 L424.8 698.5 L425.7 698.6 L426.5 698.8 L427.4 699.0 L428.3 699.2 L429.1 699.4 L430.0 699.6" fill="none" stroke="#000" stroke-width="3.0" stroke-linecap="round"/>
<circle cx="378.2" cy="672.2" r="1.9" fill="#000"/>
<circle cx="382.2" cy="676.5" r="1.9" fill="#000"/>
<circle cx="384.1" cy="677.4" r="1.9" fill="#000"/>
<circle cx="388.7" cy="685.0" r="1.9" fill="#000"/>
<circle cx="391.4" cy="689.4" r="1.9" fill="#000"/>
<circle cx="394.9" cy="692.6" r="1.9" fill="#000"/>
<circle cx="398.0" cy="691.8" r="1.9" fill="#000"/>
<circle cx="400.6" cy="693.2" r="1.9" fill="#000"/>
<circle cx="402.1" cy="693.8" r="1.9" fill="#000"/>
<circle cx="405.6" cy="695.0" r="1.9" fill="#000"/>
<circle cx="408.1" cy="696.2" r="1.9" fill="#000"/>
<circle cx="412.8" cy="695.8" r="1.9" fill="#000"/>
<circle cx="415.6" cy="697.6" r="1.9" fill="#000"/>
<circle cx="417.7" cy="697.6" r="1.9" fill="#000"/>
<circle cx="420.3" cy="697.6" r="1.9" fill="#000"/>
<circle cx="423.1" cy="697.6" r="1.9" fill="#000"/>
<circle cx="426.0" cy="697.6" r="1.9" fill="#000"/>
<circle cx="345.2" cy="592.1" r="1.85" fill="#000"/>
<circle cx="350.2" cy="589.2" r="1.85" fill="#000"/>
<circle cx="348.6" cy="597.1" r="1.85" fill="#000"/>
<circle cx="346.9" cy="602.8" r="1.85" fill="#000"/>
<circle cx="352.1" cy="607.5" r="1.85" fill="#000"/>
<circle cx="343.7" cy="609.8" r="1.85" fill="#000"/>
<circle cx="353.5" cy="612.5" r="1.85" fill="#000"/>
<circle cx="342.2" cy="615.5" r="1.85" fill="#000"/>
<circle cx="355.0" cy="623.3" r="1.85" fill="#000"/>
<circle cx="339.8" cy="627.9" r="1.85" fill="#000"/>
<circle cx="356.7" cy="631.3" r="1.85" fill="#000"/>
<circle cx="337.3" cy="638.8" r="1.85" fill="#000"/>
<circle cx="359.8" cy="639.4" r="1.85" fill="#000"/>
<circle cx="335.9" cy="651.4" r="1.85" fill="#000"/>
<circle cx="333.2" cy="660.9" r="1.85" fill="#000"/>
<circle cx="329.5" cy="669.5" r="1.85" fill="#000"/>
<circle cx="362.1" cy="646.4" r="1.85" fill="#000"/>
<circle cx="363.5" cy="651.6" r="1.85" fill="#000"/>
<circle cx="365.6" cy="657.7" r="1.85" fill="#000"/>
<circle cx="369.0" cy="662.0" r="1.85" fill="#000"/>
<circle cx="372.5" cy="668.9" r="1.85" fill="#000"/>
<circle cx="376.0" cy="670.1" r="1.85" fill="#000"/>
<circle cx="379.4" cy="674.5" r="1.85" fill="#000"/>
<rect x="271.35" y="584.5" width="161.45" height="115.5" fill="none" stroke="#000" stroke-width="2.8"/>
<line x1="303.64" y1="584.5" x2="303.64" y2="588.5" stroke="#000" stroke-width="1.3"/>
<line x1="303.64" y1="700.0" x2="303.64" y2="696.0" stroke="#000" stroke-width="1.3"/>
<line x1="271.35" y1="607.60" x2="275.35" y2="607.60" stroke="#000" stroke-width="1.3"/>
<line x1="432.8" y1="607.60" x2="428.8" y2="607.60" stroke="#000" stroke-width="1.3"/>
<line x1="335.93" y1="584.5" x2="335.93" y2="588.5" stroke="#000" stroke-width="1.3"/>
<line x1="335.93" y1="700.0" x2="335.93" y2="696.0" stroke="#000" stroke-width="1.3"/>
<line x1="271.35" y1="630.70" x2="275.35" y2="630.70" stroke="#000" stroke-width="1.3"/>
<line x1="432.8" y1="630.70" x2="428.8" y2="630.70" stroke="#000" stroke-width="1.3"/>
<line x1="368.22" y1="584.5" x2="368.22" y2="588.5" stroke="#000" stroke-width="1.3"/>
<line x1="368.22" y1="700.0" x2="368.22" y2="696.0" stroke="#000" stroke-width="1.3"/>
<line x1="271.35" y1="653.80" x2="275.35" y2="653.80" stroke="#000" stroke-width="1.3"/>
<line x1="432.8" y1="653.80" x2="428.8" y2="653.80" stroke="#000" stroke-width="1.3"/>
<line x1="400.51" y1="584.5" x2="400.51" y2="588.5" stroke="#000" stroke-width="1.3"/>
<line x1="400.51" y1="700.0" x2="400.51" y2="696.0" stroke="#000" stroke-width="1.3"/>
<line x1="271.35" y1="676.90" x2="275.35" y2="676.90" stroke="#000" stroke-width="1.3"/>
<line x1="432.8" y1="676.90" x2="428.8" y2="676.90" stroke="#000" stroke-width="1.3"/>
<text x="272.65" y="715.4" font-size="13.3" text-anchor="middle" fill="#000" stroke="#000" stroke-width="0.4">10</text>
<text x="304.94" y="715.4" font-size="13.3" text-anchor="middle" fill="#000" stroke="#000" stroke-width="0.4">20</text>
<text x="337.23" y="715.4" font-size="13.3" text-anchor="middle" fill="#000" stroke="#000" stroke-width="0.4">30</text>
<text x="369.52" y="715.4" font-size="13.3" text-anchor="middle" fill="#000" stroke="#000" stroke-width="0.4">40</text>
<text x="401.81" y="715.4" font-size="13.3" text-anchor="middle" fill="#000" stroke="#000" stroke-width="0.4">50</text>
<text x="434.10" y="715.4" font-size="13.3" text-anchor="middle" fill="#000" stroke="#000" stroke-width="0.4">60</text>
<text x="241.90" y="647.40" font-size="13.9" font-weight="normal" fill="#000" textLength="26.92" lengthAdjust="spacingAndGlyphs" stroke="#000" stroke-width="0.2">P(c)</text>
<text x="296.26" y="736.00" font-size="15.2" font-weight="normal" fill="#000" textLength="112.34" lengthAdjust="spacingAndGlyphs" >Intracellular Hb</text>
<text x="278.89" y="751.60" font-size="15.2" font-weight="normal" fill="#000" textLength="147.74" lengthAdjust="spacingAndGlyphs" >concentration (g/dL)</text>
<rect x="0" y="0" width="520" height="2.5" fill="#000"/>
<rect x="0" y="0" width="2.8" height="830" fill="#000"/>
<rect x="517.3" y="0" width="2.7" height="830" fill="#000"/>
<rect x="0" y="827.1" width="520" height="2.9" fill="#000"/>
</svg>
</body></html>
